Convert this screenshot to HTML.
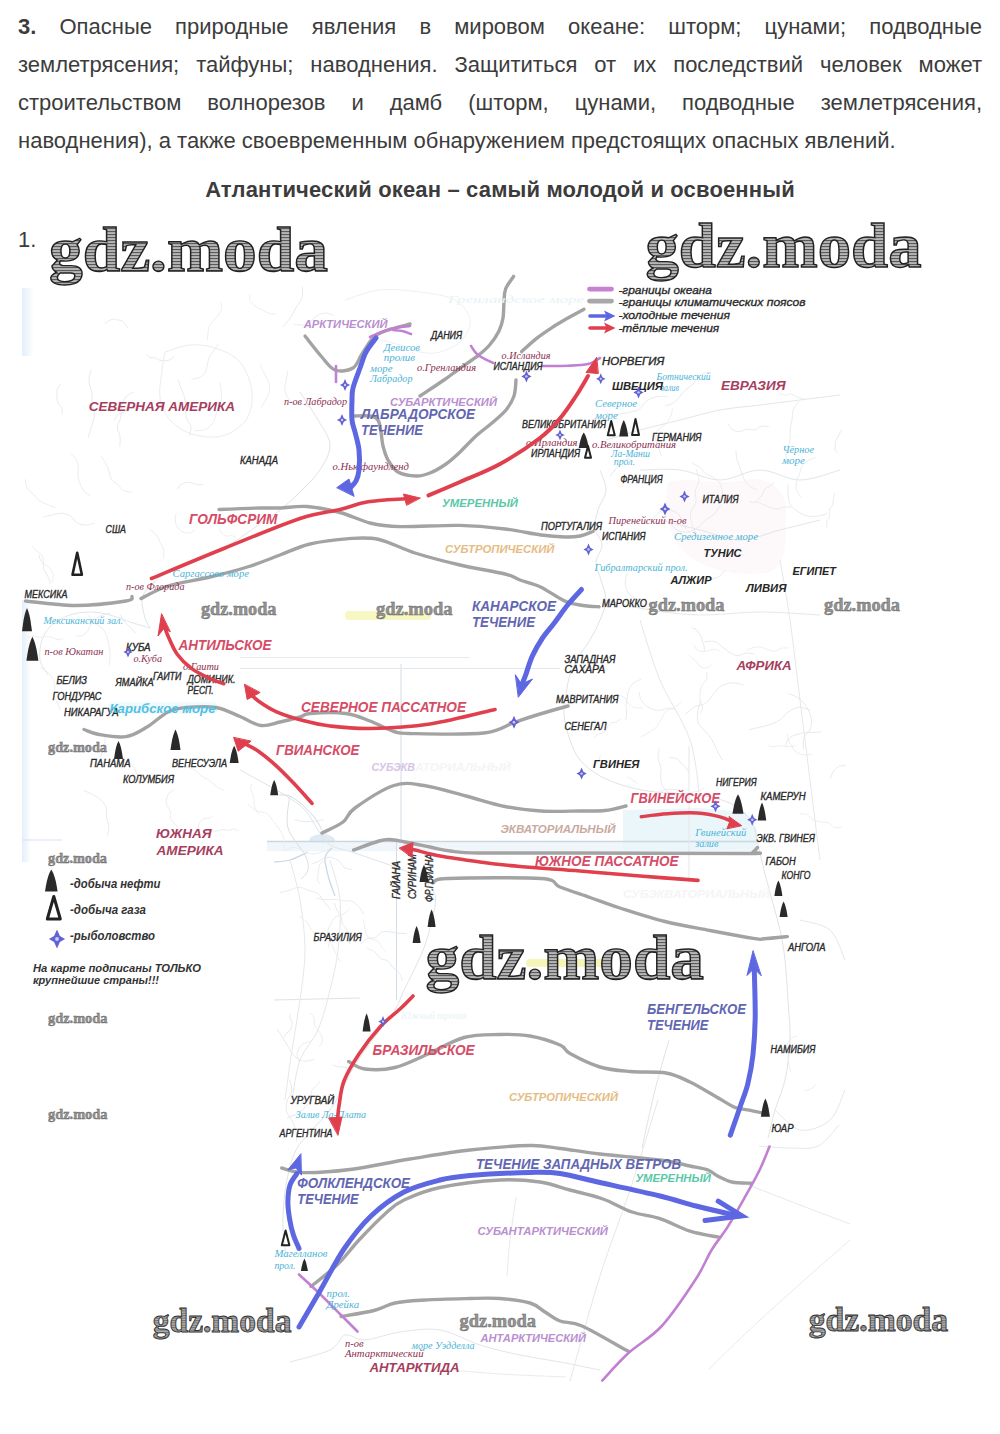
<!DOCTYPE html>
<html><head><meta charset="utf-8">
<style>
html,body{margin:0;padding:0;background:#fff}
body{position:relative;width:1000px;height:1434px;overflow:hidden;font-family:"Liberation Sans",sans-serif;color:#3c3c3c}
.p{position:absolute;left:18px;top:8px;width:964px;font-size:22px;line-height:38px}
.p div{text-align:justify;text-align-last:justify;height:38px}
.p div.l{text-align-last:left}
.h{position:absolute;left:0;width:1000px;top:176px;text-align:center;font-weight:bold;font-size:22px;line-height:28px;letter-spacing:0.15px}
.n1{position:absolute;left:18px;top:227px;font-size:22px;line-height:26px}
svg{position:absolute;left:0;top:0}
</style></head><body>
<div class="p">
<div><b>3.</b> Опасные природные явления в мировом океане: шторм; цунами; подводные</div>
<div>землетрясения; тайфуны; наводнения. Защититься от их последствий человек может</div>
<div>строительством волнорезов и дамб (шторм, цунами, подводные землетрясения,</div>
<div class="l">наводнения), а также своевременным обнаружением предстоящих опасных явлений.</div>
</div>
<div class="h">Атлантический океан – самый молодой и освоенный</div>
<div class="n1">1.</div>
<svg width="1000" height="1434" viewBox="0 0 1000 1434" font-family="Liberation Sans, sans-serif">
<defs>
<pattern id="hatch" width="4" height="3" patternUnits="userSpaceOnUse">
<rect width="4" height="3" fill="#b6b6b6"/>
<rect y="0" width="4" height="1.1" fill="#5a5a5a"/>
</pattern>
<pattern id="hatch2" width="3" height="2.4" patternUnits="userSpaceOnUse">
<rect width="3" height="2.4" fill="#b0b0b0"/>
<rect y="0" width="3" height="1" fill="#707070"/>
</pattern>
<linearGradient id="lb" x1="0" x2="1" y1="0" y2="0"><stop offset="0" stop-color="#e2effa"/><stop offset="1" stop-color="#ffffff"/></linearGradient>
</defs>

<g id="map">
<style>
.k{font:italic 10px "Liberation Sans";fill:#2a2a2a;stroke:#2a2a2a;stroke-width:0.35}
.k2{font:italic bold 11px "Liberation Sans";fill:#262626}
.m{font:italic 10px "Liberation Serif";fill:#8c3050}
.c{font:italic 10px "Liberation Serif";fill:#4ab4d6}
.cf{font:italic 10px "Liberation Serif";fill:#e8f2f5}
.cb{font:italic bold 13px "Liberation Sans";fill:#52c0e2}
.cont{font:italic bold 13.5px "Liberation Sans";fill:#a63e5e}
.bc{font:italic bold 14px "Liberation Sans";fill:#6266b2}
.rc{font:italic bold 14px "Liberation Sans";fill:#d64c66}
.bp{font:italic bold 10px "Liberation Sans";fill:#b98fd0}
.bt{font:italic bold 10.8px "Liberation Sans";fill:#5ac8a8}
.bo{font:italic bold 10.8px "Liberation Sans";fill:#e6bc84}
.by{font:italic bold 10.5px "Liberation Sans";fill:#f4f0a0}
.bq{font:italic bold 10.5px "Liberation Sans";fill:#d6c4e4}
.be{font:italic bold 10.5px "Liberation Sans";fill:#c8aaa0}
.bf{font:italic bold 10.5px "Liberation Sans";fill:#f5f5f5}
.lg{font:italic 11.5px "Liberation Sans";fill:#2a2a2a;stroke:#2a2a2a;stroke-width:0.35}
.lg2{font:italic bold 12px "Liberation Sans";fill:#333}
.lg3{font:italic bold 11px "Liberation Sans";fill:#333}
</style>
<g id="bg">
<rect x="345" y="611" width="86" height="9" rx="4" fill="#f7f7c4"/>
<rect x="526" y="959" width="82" height="8" rx="4" fill="#f5f5b8"/>
<ellipse cx="322" cy="841" rx="13" ry="7" fill="#dfeaf5"/>
<rect x="267" y="842.2" width="490" height="9" fill="#f0f6fa"/>
<path d="M623,810 L700,808 L745,812 L757,830 L757,848 L623,852 Z" fill="#eaf6fa"/>
<path d="M668,482 C690,476 720,486 745,480 C770,476 788,490 786,515 C784,540 790,560 770,572 C740,578 712,570 695,560 C675,548 660,520 668,482 Z" fill="#fdf8fa"/>
<rect x="22" y="288" width="12" height="68" fill="url(#lb)"/>
<rect x="22" y="600" width="9" height="262" fill="url(#lb)"/>
<rect x="108" y="702" width="110" height="12" rx="5" fill="#f0fafc"/>
<path d="M267.0,841.5 L757.0,841.5" fill="none" stroke="#c9d7e3" stroke-width="1.3" stroke-linejoin="round"/>
<path d="M22.0,840.0 L62.0,840.0" fill="none" stroke="#d6e2ec" stroke-width="1.2" stroke-linejoin="round"/>
<path d="M308.0,852.0 C305.0,853.3 295.7,858.3 290.0,860.0 C284.3,861.7 276.7,861.7 274.0,862.0" fill="none" stroke="#c6d6e2" stroke-width="1.2" stroke-linejoin="round"/>
<path d="M332.0,848.0 C330.8,849.7 325.5,852.8 325.0,858.0 C324.5,863.2 327.3,872.7 329.0,879.0 C330.7,885.3 334.0,893.2 335.0,896.0" fill="none" stroke="#c6d6e2" stroke-width="1.2" stroke-linejoin="round"/>
<path d="M279.0,795.0 C280.8,795.2 285.8,794.5 289.5,796.0 C293.2,797.5 297.1,800.3 301.4,804.0 C305.6,807.7 311.6,813.7 315.0,818.0 C318.4,822.3 320.8,828.0 322.0,830.0" fill="none" stroke="#cfdae3" stroke-width="1" stroke-linejoin="round"/>
<path d="M289.5,797.0 C289.2,802.2 285.4,818.3 288.0,828.0 C290.6,837.7 301.7,848.0 305.0,855.0 C308.3,862.0 308.7,866.0 308.0,870.0 C307.3,874.0 302.2,877.5 301.0,879.0" fill="none" stroke="#d8e0e6" stroke-width="1" stroke-linejoin="round"/>
<path d="M401.0,664.0 L401.0,841.0" fill="none" stroke="#d3dce5" stroke-width="1" stroke-linejoin="round"/>
<path d="M240.0,668.5 L560.0,668.5" fill="none" stroke="#e2e7ec" stroke-width="1" stroke-linejoin="round"/>
<path d="M240.0,657.5 L470.0,657.5" fill="none" stroke="#e6eaee" stroke-width="1" stroke-linejoin="round"/>
<path d="M396.5,842.0 L396.5,1000.0" fill="none" stroke="#d3dce5" stroke-width="1" stroke-linejoin="round"/>
<path d="M274.0,1000.0 L360.0,998.0" fill="none" stroke="#dde3e8" stroke-width="1" stroke-linejoin="round"/>
<path d="M669.0,1040.0 C666.7,1048.3 659.5,1072.0 655.0,1090.0 C650.5,1108.0 644.2,1138.3 642.0,1148.0" fill="none" stroke="#dde3e8" stroke-width="1" stroke-linejoin="round"/>
<path d="M689.0,746.0 L689.0,880.0" fill="none" stroke="#e3e7ea" stroke-width="1" stroke-linejoin="round"/>
<path d="M300.0,392.0 C303.0,396.7 313.0,411.2 318.0,420.0 C323.0,428.8 329.7,436.7 330.0,445.0 C330.3,453.3 325.0,462.2 320.0,470.0 C315.0,477.8 306.7,485.3 300.0,492.0 C293.3,498.7 286.3,505.0 280.0,510.0 C273.7,515.0 268.7,517.3 262.0,522.0 C255.3,526.7 247.8,533.0 240.0,538.0 C232.2,543.0 223.3,548.0 215.0,552.0 C206.7,556.0 198.3,558.3 190.0,562.0 C181.7,565.7 172.0,569.7 165.0,574.0 C158.0,578.3 151.8,583.7 148.0,588.0 C144.2,592.3 142.5,595.0 142.0,600.0 C141.5,605.0 143.7,613.3 145.0,618.0 C146.3,622.7 149.2,626.3 150.0,628.0" fill="none" stroke="#dfe4e8" stroke-width="1" stroke-linejoin="round"/>
<path d="M150.0,628.0 C146.7,627.0 136.7,624.2 130.0,622.0 C123.3,619.8 116.7,616.7 110.0,615.0 C103.3,613.3 96.7,612.0 90.0,612.0 C83.3,612.0 76.3,612.8 70.0,615.0 C63.7,617.2 56.7,620.8 52.0,625.0 C47.3,629.2 44.0,634.2 42.0,640.0 C40.0,645.8 39.0,654.2 40.0,660.0 C41.0,665.8 46.7,672.5 48.0,675.0" fill="none" stroke="#e2e6ea" stroke-width="1" stroke-linejoin="round"/>
<path d="M165.0,352.0 C169.2,350.8 181.7,345.7 190.0,345.0 C198.3,344.3 206.7,345.2 215.0,348.0 C223.3,350.8 233.8,354.7 240.0,362.0 C246.2,369.3 251.0,382.3 252.0,392.0 C253.0,401.7 251.0,412.7 246.0,420.0 C241.0,427.3 231.0,433.7 222.0,436.0 C213.0,438.3 200.7,436.7 192.0,434.0 C183.3,431.3 175.3,426.0 170.0,420.0 C164.7,414.0 161.3,406.3 160.0,398.0 C158.7,389.7 161.2,377.7 162.0,370.0 C162.8,362.3 164.5,355.0 165.0,352.0" fill="none" stroke="#eaedf0" stroke-width="1" stroke-linejoin="round"/>
<path d="M345.0,300.0 C350.8,298.3 367.5,291.3 380.0,290.0 C392.5,288.7 407.5,290.3 420.0,292.0 C432.5,293.7 446.7,295.3 455.0,300.0 C463.3,304.7 468.8,313.3 470.0,320.0 C471.2,326.7 467.0,334.7 462.0,340.0 C457.0,345.3 447.0,350.0 440.0,352.0 C433.0,354.0 426.7,353.2 420.0,352.0 C413.3,350.8 406.7,347.0 400.0,345.0 C393.3,343.0 383.3,340.8 380.0,340.0" fill="none" stroke="#eef0f2" stroke-width="1" stroke-linejoin="round"/>
<path d="M600.0,470.0 C601.0,473.3 606.3,483.3 606.0,490.0 C605.7,496.7 599.8,503.7 598.0,510.0 C596.2,516.3 594.3,522.2 595.0,528.0 C595.7,533.8 601.8,539.3 602.0,545.0 C602.2,550.7 596.2,556.2 596.0,562.0 C595.8,567.8 599.3,573.7 601.0,580.0 C602.7,586.3 606.2,593.3 606.0,600.0 C605.8,606.7 602.7,613.3 600.0,620.0 C597.3,626.7 593.3,634.2 590.0,640.0 C586.7,645.8 583.3,649.2 580.0,655.0 C576.7,660.8 572.3,668.3 570.0,675.0 C567.7,681.7 567.0,688.3 566.0,695.0 C565.0,701.7 563.3,707.5 564.0,715.0 C564.7,722.5 567.3,732.5 570.0,740.0 C572.7,747.5 575.0,754.0 580.0,760.0 C585.0,766.0 592.5,771.7 600.0,776.0 C607.5,780.3 615.8,783.3 625.0,786.0 C634.2,788.7 644.2,790.7 655.0,792.0 C665.8,793.3 680.0,793.0 690.0,794.0 C700.0,795.0 707.5,796.0 715.0,798.0 C722.5,800.0 728.8,802.0 735.0,806.0 C741.2,810.0 748.2,815.5 752.0,822.0 C755.8,828.5 756.0,837.0 758.0,845.0 C760.0,853.0 761.7,860.8 764.0,870.0 C766.3,879.2 769.3,890.0 772.0,900.0 C774.7,910.0 777.8,920.0 780.0,930.0 C782.2,940.0 783.7,948.3 785.0,960.0 C786.3,971.7 787.2,986.7 788.0,1000.0 C788.8,1013.3 790.5,1026.7 790.0,1040.0 C789.5,1053.3 787.5,1068.3 785.0,1080.0 C782.5,1091.7 777.8,1100.3 775.0,1110.0 C772.2,1119.7 769.2,1133.3 768.0,1138.0" fill="none" stroke="#dfe4e8" stroke-width="1" stroke-linejoin="round"/>
<path d="M606.0,600.0 C613.3,601.7 634.3,607.5 650.0,610.0 C665.7,612.5 681.7,614.7 700.0,615.0 C718.3,615.3 740.0,612.0 760.0,612.0 C780.0,612.0 810.0,614.5 820.0,615.0" fill="none" stroke="#e4e8eb" stroke-width="1" stroke-linejoin="round"/>
<path d="M640.0,620.0 C643.3,630.0 651.7,660.0 660.0,680.0 C668.3,700.0 683.3,720.0 690.0,740.0 C696.7,760.0 698.3,790.0 700.0,800.0" fill="none" stroke="#e4e8eb" stroke-width="1" stroke-linejoin="round"/>
<path d="M780.0,560.0 C781.7,570.0 786.7,596.7 790.0,620.0 C793.3,643.3 796.7,673.3 800.0,700.0 C803.3,726.7 806.7,753.3 810.0,780.0 C813.3,806.7 818.3,846.7 820.0,860.0" fill="none" stroke="#e4e8eb" stroke-width="1" stroke-linejoin="round"/>
<path d="M800.0,920.0 C805.0,921.7 822.5,923.3 830.0,930.0 C837.5,936.7 842.5,955.0 845.0,960.0" fill="none" stroke="#e4e8eb" stroke-width="1" stroke-linejoin="round"/>
<path d="M775.0,1110.0 C779.2,1113.3 790.8,1128.3 800.0,1130.0 C809.2,1131.7 822.5,1126.7 830.0,1120.0 C837.5,1113.3 842.5,1095.0 845.0,1090.0" fill="none" stroke="#e4e8eb" stroke-width="1" stroke-linejoin="round"/>
<path d="M606.0,440.0 C611.7,438.3 627.7,433.3 640.0,430.0 C652.3,426.7 666.7,423.3 680.0,420.0 C693.3,416.7 706.7,412.5 720.0,410.0 C733.3,407.5 746.7,406.7 760.0,405.0 C773.3,403.3 786.7,401.7 800.0,400.0 C813.3,398.3 833.3,395.8 840.0,395.0" fill="none" stroke="#e2e6ea" stroke-width="1" stroke-linejoin="round"/>
<path d="M640.0,470.0 C646.7,470.0 666.7,468.3 680.0,470.0 C693.3,471.7 706.7,480.0 720.0,480.0 C733.3,480.0 746.7,470.0 760.0,470.0 C773.3,470.0 786.7,480.0 800.0,480.0 C813.3,480.0 833.3,471.7 840.0,470.0" fill="none" stroke="#e2e6ea" stroke-width="1" stroke-linejoin="round"/>
<path d="M660.0,520.0 C666.7,521.7 686.7,526.7 700.0,530.0 C713.3,533.3 726.7,540.0 740.0,540.0 C753.3,540.0 766.7,533.3 780.0,530.0 C793.3,526.7 813.3,521.7 820.0,520.0" fill="none" stroke="#e2e6ea" stroke-width="1" stroke-linejoin="round"/>
<path d="M240.0,770.0 C243.7,772.0 254.5,777.8 262.0,782.0 C269.5,786.2 277.8,790.3 285.0,795.0 C292.2,799.7 299.5,804.2 305.0,810.0 C310.5,815.8 313.8,824.2 318.0,830.0 C322.2,835.8 324.3,841.3 330.0,845.0 C335.7,848.7 344.5,849.5 352.0,852.0 C359.5,854.5 367.3,857.3 375.0,860.0 C382.7,862.7 390.5,865.0 398.0,868.0 C405.5,871.0 413.8,873.5 420.0,878.0 C426.2,882.5 433.0,888.0 435.0,895.0 C437.0,902.0 433.7,911.7 432.0,920.0 C430.3,928.3 427.8,937.0 425.0,945.0 C422.2,953.0 418.5,960.5 415.0,968.0 C411.5,975.5 407.3,983.0 404.0,990.0 C400.7,997.0 399.0,1003.3 395.0,1010.0 C391.0,1016.7 385.0,1023.3 380.0,1030.0 C375.0,1036.7 369.7,1043.3 365.0,1050.0 C360.3,1056.7 355.8,1063.3 352.0,1070.0 C348.2,1076.7 345.7,1083.3 342.0,1090.0 C338.3,1096.7 335.0,1103.3 330.0,1110.0 C325.0,1116.7 317.7,1123.3 312.0,1130.0 C306.3,1136.7 300.0,1142.5 296.0,1150.0 C292.0,1157.5 290.0,1166.7 288.0,1175.0 C286.0,1183.3 284.8,1190.8 284.0,1200.0 C283.2,1209.2 282.7,1220.8 283.0,1230.0 C283.3,1239.2 285.5,1250.8 286.0,1255.0" fill="none" stroke="#dfe4e8" stroke-width="1" stroke-linejoin="round"/>
<path d="M330.0,860.0 C331.7,866.7 338.7,885.0 340.0,900.0 C341.3,915.0 339.7,935.0 338.0,950.0 C336.3,965.0 333.3,976.7 330.0,990.0 C326.7,1003.3 323.0,1018.3 318.0,1030.0 C313.0,1041.7 304.3,1048.3 300.0,1060.0 C295.7,1071.7 293.3,1093.3 292.0,1100.0" fill="none" stroke="#e4e8eb" stroke-width="1" stroke-linejoin="round"/>
<path d="M290.0,860.0 C291.7,866.7 297.5,885.0 300.0,900.0 C302.5,915.0 305.0,933.3 305.0,950.0 C305.0,966.7 302.2,983.3 300.0,1000.0 C297.8,1016.7 294.5,1033.3 292.0,1050.0 C289.5,1066.7 286.2,1091.7 285.0,1100.0" fill="none" stroke="#e4e8eb" stroke-width="1" stroke-linejoin="round"/>
<path d="M290.0,1362.0 C296.7,1360.0 320.8,1354.5 330.0,1350.0 C339.2,1345.5 339.2,1336.7 345.0,1335.0 C350.8,1333.3 355.8,1340.5 365.0,1340.0 C374.2,1339.5 387.5,1333.7 400.0,1332.0 C412.5,1330.3 426.7,1327.8 440.0,1330.0 C453.3,1332.2 466.7,1340.8 480.0,1345.0 C493.3,1349.2 506.7,1352.2 520.0,1355.0 C533.3,1357.8 546.7,1359.5 560.0,1362.0 C573.3,1364.5 593.3,1368.7 600.0,1370.0" fill="none" stroke="#e2e6ea" stroke-width="1" stroke-linejoin="round"/>
<path d="M658.0,1100.0 C653.3,1115.0 639.7,1160.7 630.0,1190.0 C620.3,1219.3 610.0,1244.2 600.0,1276.0 C590.0,1307.8 575.0,1363.5 570.0,1381.0" fill="none" stroke="#e4e8eb" stroke-width="1" stroke-linejoin="round"/>
<path d="M516.0,1197.0 C515.0,1204.2 511.5,1226.8 510.0,1240.0 C508.5,1253.2 507.5,1270.0 507.0,1276.0" fill="none" stroke="#e6e9ec" stroke-width="1" stroke-linejoin="round"/>
<path d="M746.0,1184.0 C755.0,1187.5 782.7,1198.3 800.0,1205.0 C817.3,1211.7 841.7,1220.8 850.0,1224.0" fill="none" stroke="#e6e9ec" stroke-width="1" stroke-linejoin="round"/>
<path d="M759.0,1146.0 C764.2,1146.3 780.2,1148.0 790.0,1148.0 C799.8,1148.0 809.8,1149.8 818.0,1146.0 C826.2,1142.2 835.5,1128.5 839.0,1125.0" fill="none" stroke="#e4e8eb" stroke-width="1" stroke-linejoin="round"/>
<path d="M709.0,1369.0 C717.5,1360.8 741.8,1336.8 760.0,1320.0 C778.2,1303.2 803.0,1281.3 818.0,1268.0 C833.0,1254.7 844.7,1244.7 850.0,1240.0" fill="none" stroke="#e8ebee" stroke-width="1" stroke-linejoin="round"/>
<path d="M440.0,1369.0 C450.0,1369.8 479.0,1372.7 500.0,1374.0 C521.0,1375.3 555.0,1376.5 566.0,1377.0" fill="none" stroke="#e8ebee" stroke-width="1" stroke-linejoin="round"/>
<path d="M127.95031751144512,328.27173565584064 C127.5,327.6 126.4,325.5 125.4,324.3 C124.4,323.1 123.5,321.6 122.2,320.9 C120.9,320.2 119.0,320.3 117.5,320.0 C116.0,319.7 114.4,318.9 112.9,319.1 C111.4,319.3 110.1,320.4 108.7,321.1 C107.3,321.8 105.3,323.1 104.6,323.5" fill="none" stroke="#e4e8eb" stroke-width="0.9"/>
<path d="M101.25282304077503,456.33512121324344 C102.0,457.5 104.5,460.9 105.8,463.4 C107.1,465.9 108.1,468.5 109.0,471.2 C109.9,473.9 109.8,477.1 111.3,479.3 C112.8,481.5 115.8,482.7 117.8,484.6 C119.8,486.5 121.2,489.4 123.6,490.6 C125.9,491.9 130.5,491.9 131.9,492.1" fill="none" stroke="#e7eaed" stroke-width="0.9"/>
<path d="M38.95304047829977,554.7099068955774 C39.2,555.5 39.7,558.1 40.4,559.7 C41.1,561.3 42.6,562.6 43.2,564.2 C43.8,565.8 43.2,567.8 43.8,569.4 C44.4,571.0 45.8,572.4 46.6,573.9 C47.4,575.4 48.2,577.0 48.8,578.6 C49.4,580.2 49.9,582.9 50.1,583.7" fill="none" stroke="#e3e7eb" stroke-width="0.9"/>
<path d="M55.275214894309414,507.87544503876916 C53.9,507.3 49.9,505.6 47.2,504.4 C44.5,503.2 41.5,502.4 39.2,500.7 C36.9,499.0 35.3,496.3 33.3,494.2 C31.3,492.1 28.3,490.4 27.0,487.9 C25.7,485.4 25.6,480.7 25.3,479.3" fill="none" stroke="#e7eaed" stroke-width="0.9"/>
<path d="M61.899114819842836,413.7993029712727 C61.9,412.9 62.6,410.1 62.1,408.5 C61.6,406.9 59.9,405.8 59.0,404.2 C58.1,402.6 57.3,400.9 57.0,399.2 C56.7,397.5 56.9,395.7 57.0,393.9 C57.1,392.1 56.9,390.2 57.5,388.6 C58.1,387.0 60.0,385.0 60.5,384.3" fill="none" stroke="#e3e7eb" stroke-width="0.9"/>
<path d="M133.17927826337376,392.0570840701339 C131.8,393.0 127.0,395.4 125.0,398.0 C123.0,400.6 121.9,404.1 121.2,407.4 C120.5,410.6 121.3,414.2 120.7,417.5 C120.1,420.8 117.5,423.9 117.4,427.1 C117.3,430.3 119.7,433.6 120.1,436.9 C120.5,440.2 119.8,445.3 119.7,447.0" fill="none" stroke="#e3e7eb" stroke-width="0.9"/>
<path d="M287.8378565017185,371.07057027012775 C287.6,372.6 286.7,377.1 286.2,380.1 C285.7,383.1 284.6,386.2 284.9,389.2 C285.2,392.2 286.3,395.5 288.0,397.9 C289.7,400.3 292.3,402.7 295.0,403.8 C297.7,404.9 301.2,403.8 304.1,404.6 C307.0,405.4 311.0,407.9 312.4,408.6" fill="none" stroke="#e7eaed" stroke-width="0.9"/>
<path d="M261.0146448499289,407.3272571347945 C261.7,406.2 264.0,403.0 265.3,400.7 C266.6,398.4 267.9,396.1 268.7,393.6 C269.4,391.1 270.1,388.3 269.8,385.8 C269.5,383.3 268.0,380.8 266.9,378.4 C265.8,376.0 264.4,373.8 263.3,371.4 C262.2,369.0 260.7,365.4 260.2,364.2" fill="none" stroke="#e9ecee" stroke-width="0.9"/>
<path d="M146.12165738218812,353.8404825947783 C146.8,354.4 148.5,356.8 150.0,357.4 C151.5,358.0 153.7,357.2 155.3,357.7 C157.0,358.2 158.2,359.9 159.9,360.4 C161.6,360.9 163.4,360.9 165.2,360.8 C166.9,360.7 168.9,360.4 170.4,359.6 C171.9,358.8 173.7,356.7 174.3,356.1" fill="none" stroke="#e3e7eb" stroke-width="0.9"/>
<path d="M219.749791717496,381.95573795580367 C220.0,383.7 221.2,388.9 221.4,392.4 C221.6,395.9 221.5,399.6 220.7,403.0 C219.9,406.4 217.8,409.5 216.5,412.8 C215.2,416.1 214.9,420.0 213.0,422.8 C211.1,425.6 208.1,428.4 205.0,429.7 C201.9,431.0 196.2,430.5 194.4,430.6" fill="none" stroke="#e9ecee" stroke-width="0.9"/>
<path d="M151.7803514083639,406.11840511211653 C150.8,406.7 147.9,409.4 145.7,409.9 C143.5,410.4 141.0,409.1 138.6,408.9 C136.2,408.7 133.7,408.1 131.4,408.6 C129.2,409.1 127.3,411.0 125.1,412.0 C122.9,413.0 120.2,413.2 118.4,414.6 C116.6,416.0 114.7,419.3 114.0,420.2" fill="none" stroke="#e7eaed" stroke-width="0.9"/>
<path d="M221.00966141511338,302.50098436911674 C221.1,303.7 222.0,307.4 221.5,309.5 C221.0,311.6 219.2,313.5 217.8,315.4 C216.4,317.3 214.8,318.9 213.3,320.7 C211.8,322.5 209.9,324.1 209.0,326.2 C208.1,328.3 208.4,330.8 208.1,333.1 C207.8,335.4 207.4,338.9 207.3,340.1" fill="none" stroke="#e9ecee" stroke-width="0.9"/>
<path d="M178.20682858162317,379.7927405497662 C178.7,381.3 180.3,386.0 181.4,389.1 C182.5,392.2 184.1,395.1 184.8,398.2 C185.5,401.3 185.4,404.8 185.7,408.0 C185.9,411.2 185.4,414.6 186.3,417.7 C187.2,420.8 190.4,423.3 190.9,426.4 C191.4,429.5 189.7,434.5 189.4,436.1" fill="none" stroke="#e3e7eb" stroke-width="0.9"/>
<path d="M71.05941498660812,453.8151762822766 C72.0,454.8 75.3,457.6 76.5,459.9 C77.7,462.2 78.1,465.1 78.3,467.8 C78.5,470.5 77.6,473.2 77.9,475.9 C78.2,478.5 79.1,481.2 80.1,483.7 C81.1,486.2 82.1,489.0 83.8,491.0 C85.5,493.0 89.2,495.0 90.3,495.8" fill="none" stroke="#e7eaed" stroke-width="0.9"/>
<path d="M194.96215959521416,529.2975652282166 C194.2,529.9 192.1,532.3 190.3,532.8 C188.5,533.3 186.2,533.0 184.4,532.5 C182.6,532.0 180.8,530.8 179.4,529.5 C178.0,528.2 176.8,526.5 176.1,524.7 C175.4,522.9 175.2,520.8 175.2,518.9 C175.2,517.0 176.0,514.2 176.2,513.2" fill="none" stroke="#e7eaed" stroke-width="0.9"/>
<path d="M88.17367266984304,437.6901897324623 C88.7,435.8 90.5,430.3 91.5,426.6 C92.5,422.9 94.2,419.1 94.3,415.3 C94.4,411.5 92.6,407.7 92.2,403.9 C91.8,400.1 92.3,396.2 91.8,392.4 C91.2,388.6 89.0,384.9 88.9,381.1 C88.8,377.3 90.7,371.6 91.0,369.7" fill="none" stroke="#e3e7eb" stroke-width="0.9"/>
<path d="M330.55520265414793,396.68348331579716 C331.1,397.5 332.5,400.2 333.9,401.5 C335.3,402.8 338.1,404.0 338.9,404.5" fill="none" stroke="#e4e8eb" stroke-width="0.9"/>
<path d="M177.91096982995376,488.9529737091229 C178.3,488.3 179.3,485.8 180.4,484.8 C181.5,483.8 183.2,483.1 184.7,482.7 C186.2,482.3 187.9,482.2 189.5,482.4 C191.1,482.6 192.6,483.3 194.1,483.7 C195.6,484.1 197.1,484.8 198.7,484.9 C200.2,484.9 202.6,484.1 203.4,484.0" fill="none" stroke="#e3e7eb" stroke-width="0.9"/>
<path d="M51.846704312148404,582.7729105273659 C52.1,581.5 53.4,577.6 53.1,575.2 C52.8,572.8 51.5,570.2 50.0,568.3 C48.5,566.3 45.2,565.5 44.0,563.5 C42.8,561.5 43.7,558.1 42.5,556.0 C41.3,553.9 38.5,552.8 36.7,551.0 C34.9,549.2 32.4,546.3 31.5,545.4" fill="none" stroke="#e9ecee" stroke-width="0.9"/>
<path d="M282.88713623233497,326.7757787980397 C284.1,325.3 288.1,321.2 290.3,318.0 C292.5,314.8 293.9,311.1 295.8,307.8 C297.7,304.5 300.8,301.7 301.9,298.1 C303.0,294.6 302.3,288.4 302.4,286.5" fill="none" stroke="#e4e8eb" stroke-width="0.9"/>
<path d="M163.2528291991529,558.9577369566093 C163.4,558.0 164.0,555.2 164.0,553.3 C164.0,551.4 163.7,549.4 163.1,547.6 C162.5,545.8 161.0,544.3 160.2,542.6 C159.3,540.9 159.0,538.9 158.0,537.3 C157.0,535.7 155.5,534.3 154.1,533.0 C152.7,531.7 150.5,529.9 149.8,529.3" fill="none" stroke="#e7eaed" stroke-width="0.9"/>
<path d="M43.550352380540005,516.7750557751274 C45.0,516.5 49.5,515.5 52.5,514.9 C55.5,514.3 58.5,513.1 61.5,513.3 C64.5,513.4 67.8,514.3 70.3,515.8 C72.8,517.3 74.1,521.0 76.6,522.5 C79.1,524.0 82.3,525.0 85.3,525.1 C88.2,525.2 92.8,523.6 94.3,523.3" fill="none" stroke="#e4e8eb" stroke-width="0.9"/>
<path d="M219.3460391034359,528.3324689845334 C219.7,529.1 220.6,531.7 221.7,533.0 C222.8,534.3 224.5,535.4 226.1,535.9 C227.7,536.4 229.6,535.6 231.3,535.7 C233.0,535.9 235.6,536.6 236.4,536.8" fill="none" stroke="#e9ecee" stroke-width="0.9"/>
<path d="M275.75146459231763,313.955013473577 C274.7,313.9 271.6,314.1 269.7,313.6 C267.8,313.1 266.1,311.8 264.3,310.9 C262.5,310.0 260.7,309.3 258.9,308.3 C257.1,307.3 255.2,306.4 253.7,305.1 C252.2,303.8 250.7,302.2 250.0,300.4 C249.3,298.6 249.6,295.4 249.5,294.4" fill="none" stroke="#e9ecee" stroke-width="0.9"/>
<path d="M218.57019587162011,343.8090269392276 C217.8,344.9 215.6,348.2 214.1,350.4 C212.6,352.6 210.6,354.5 209.5,356.9 C208.4,359.3 208.1,362.0 207.4,364.6 C206.7,367.2 206.4,370.1 205.1,372.3 C203.8,374.5 201.6,376.6 199.3,377.7 C197.0,378.8 192.7,378.8 191.4,379.0" fill="none" stroke="#e7eaed" stroke-width="0.9"/>
<path d="M293.63993046921905,323.88301948699245 C294.9,324.1 298.5,325.1 301.0,325.1 C303.5,325.1 306.3,324.8 308.4,323.7 C310.5,322.6 311.7,319.9 313.6,318.3 C315.5,316.7 317.6,315.2 319.9,314.3 C322.2,313.4 324.9,312.9 327.3,313.2 C329.7,313.5 333.1,315.5 334.2,316.0" fill="none" stroke="#e7eaed" stroke-width="0.9"/>
<path d="M834.8761646377293,492.97010377144977 C834.6,494.0 833.9,496.9 833.5,498.9 C833.1,500.9 833.2,503.0 832.5,504.9 C831.8,506.8 829.9,508.2 829.4,510.1 C828.9,512.0 830.1,514.3 829.7,516.2 C829.3,518.1 827.4,519.6 826.9,521.5 C826.4,523.4 826.7,526.6 826.7,527.6" fill="none" stroke="#e7eaed" stroke-width="0.9"/>
<path d="M640.3665149702198,453.1261017835561 C639.3,453.5 636.0,454.3 634.0,455.3 C632.0,456.3 630.4,458.1 628.4,459.0 C626.4,459.9 623.6,459.6 621.9,460.8 C620.2,462.0 619.4,464.4 618.0,466.2 C616.6,467.9 615.1,469.5 613.7,471.3 C612.3,473.1 610.4,475.9 609.8,476.8" fill="none" stroke="#e4e8eb" stroke-width="0.9"/>
<path d="M696.0861394768541,469.2775650419168 C696.6,471.1 699.1,476.7 699.0,480.3 C698.9,483.9 695.8,487.3 695.3,491.0 C694.8,494.7 696.7,498.8 695.9,502.4 C695.1,506.0 691.3,508.9 690.6,512.5 C689.9,516.1 690.8,520.2 691.8,523.8 C692.8,527.4 695.7,532.5 696.5,534.2" fill="none" stroke="#e7eaed" stroke-width="0.9"/>
<path d="M667.6115243803273,396.35644514946733 C665.8,396.4 660.1,396.0 656.6,396.8 C653.1,397.6 649.3,398.8 646.4,400.9 C643.5,403.0 642.2,407.4 639.3,409.3 C636.4,411.2 632.4,411.5 628.8,412.4 C625.2,413.2 621.5,414.2 617.9,414.4 C614.3,414.6 608.8,413.6 607.0,413.4" fill="none" stroke="#e4e8eb" stroke-width="0.9"/>
<path d="M669.765575337273,522.3224599464435 C671.0,523.7 674.1,528.7 677.1,530.3 C680.1,531.9 684.5,532.5 687.9,532.0 C691.3,531.5 694.8,529.5 697.8,527.5 C700.8,525.5 702.9,522.3 705.7,520.0 C708.5,517.7 712.1,516.3 714.6,513.8 C717.1,511.2 719.5,506.2 720.5,504.7" fill="none" stroke="#e3e7eb" stroke-width="0.9"/>
<path d="M815.6937422634616,457.30942194290986 C814.4,457.9 810.4,459.1 808.1,460.6 C805.8,462.1 803.4,463.9 801.9,466.2 C800.4,468.5 800.3,471.6 799.4,474.2 C798.5,476.8 797.0,479.3 796.5,482.0 C796.0,484.7 795.8,487.8 796.6,490.3 C797.4,492.9 800.4,496.1 801.1,497.3" fill="none" stroke="#e7eaed" stroke-width="0.9"/>
<path d="M665.4738229706505,406.0554419005843 C666.8,405.5 671.3,404.3 673.7,402.7 C676.1,401.1 677.9,398.6 679.9,396.4 C681.9,394.2 683.5,391.6 685.7,389.6 C687.9,387.6 690.9,386.5 692.9,384.4 C694.9,382.3 695.9,379.1 698.0,377.2 C700.1,375.2 704.4,373.4 705.7,372.7" fill="none" stroke="#e3e7eb" stroke-width="0.9"/>
<path d="M661.419879895901,456.04644325361323 C660.9,454.6 659.3,450.5 658.3,447.6 C657.3,444.7 655.8,441.8 655.7,438.9 C655.6,436.0 656.4,432.6 657.9,430.2 C659.4,427.8 662.9,426.7 665.0,424.6 C667.1,422.5 669.1,420.1 670.4,417.4 C671.7,414.7 672.2,410.1 672.6,408.6" fill="none" stroke="#e7eaed" stroke-width="0.9"/>
<path d="M685.6761563543686,528.4698701337165 C685.1,527.1 683.6,522.9 682.2,520.3 C680.8,517.7 679.3,514.7 677.0,513.0 C674.7,511.3 671.4,510.3 668.5,510.1 C665.6,509.9 662.2,510.5 659.7,511.8 C657.2,513.1 655.9,516.4 653.5,518.1 C651.1,519.8 646.8,521.4 645.4,522.1" fill="none" stroke="#e3e7eb" stroke-width="0.9"/>
<path d="M749.6946033876629,502.22487717192615 C750.6,502.2 753.6,502.7 755.2,502.0 C756.8,501.3 758.1,499.7 759.4,498.3 C760.6,496.9 761.8,495.4 762.7,493.8 C763.6,492.2 763.7,490.0 764.9,488.7 C766.1,487.4 768.3,487.2 769.8,486.2 C771.3,485.1 773.3,483.0 774.0,482.4" fill="none" stroke="#e4e8eb" stroke-width="0.9"/>
<path d="M841.4166925146963,430.1950085234551 C841.1,430.8 840.1,432.7 839.4,433.9 C838.7,435.1 838.1,436.4 837.5,437.6 C836.9,438.8 836.0,440.0 835.6,441.3 C835.2,442.6 835.5,444.1 835.4,445.5 C835.3,446.9 834.7,448.4 835.1,449.6 C835.5,450.9 837.2,452.4 837.6,453.0" fill="none" stroke="#e3e7eb" stroke-width="0.9"/>
<path d="M804.2610702845332,399.04664655855373 C803.1,398.7 799.6,398.0 797.4,397.2 C795.2,396.4 793.2,394.5 791.0,394.1 C788.8,393.8 786.1,395.5 783.9,395.1 C781.7,394.7 779.4,393.2 777.7,391.6 C776.0,390.0 775.5,387.2 773.8,385.6 C772.1,384.0 768.6,382.7 767.6,382.1" fill="none" stroke="#e9ecee" stroke-width="0.9"/>
<path d="M791.0778364653415,507.48732701785167 C790.0,507.4 786.8,506.5 784.8,506.7 C782.8,506.9 781.0,508.6 779.0,508.9 C777.0,509.2 774.7,508.9 772.7,508.4 C770.7,507.9 768.8,506.8 766.9,506.0 C765.0,505.2 763.1,504.2 761.1,503.5 C759.1,502.8 756.1,501.9 755.1,501.6" fill="none" stroke="#e7eaed" stroke-width="0.9"/>
<path d="M827.471913255299,513.5390258045626 C825.8,514.0 820.9,515.7 817.5,516.1 C814.1,516.5 810.6,516.6 807.3,515.9 C804.0,515.1 800.7,513.5 797.9,511.6 C795.1,509.8 791.9,507.6 790.3,504.8 C788.7,502.0 788.6,498.2 788.2,494.8 C787.8,491.4 788.1,486.2 788.1,484.5" fill="none" stroke="#e4e8eb" stroke-width="0.9"/>
<path d="M756.9417771302922,489.73057427936374 C755.8,489.2 751.9,487.9 749.9,486.4 C747.9,484.9 746.0,482.7 744.7,480.5 C743.4,478.3 742.8,475.6 741.9,473.2 C741.0,470.8 740.0,468.3 739.1,465.8 C738.2,463.3 737.2,460.9 736.7,458.4 C736.2,455.9 736.1,451.9 736.0,450.6" fill="none" stroke="#e4e8eb" stroke-width="0.9"/>
<path d="M786.4319774076125,461.0853839770882 C786.4,459.3 785.8,454.0 786.4,450.6 C787.0,447.2 789.5,444.1 790.1,440.7 C790.7,437.3 789.7,433.7 790.0,430.2 C790.3,426.7 791.4,423.3 792.0,419.9 C792.6,416.4 792.1,412.7 793.4,409.5 C794.6,406.3 798.5,402.3 799.5,400.9" fill="none" stroke="#e4e8eb" stroke-width="0.9"/>
<path d="M719.7525410176565,500.5349537880421 C720.2,499.1 722.4,495.0 722.4,492.2 C722.4,489.4 721.3,486.1 719.9,483.7 C718.5,481.2 716.1,479.2 713.8,477.5 C711.4,475.8 708.2,475.3 705.8,473.6 C703.4,471.9 701.9,469.1 699.6,467.4 C697.3,465.6 693.3,463.8 692.0,463.1" fill="none" stroke="#e7eaed" stroke-width="0.9"/>
<path d="M768.9269142031936,426.68101794472136 C767.7,426.6 763.7,425.7 761.3,426.2 C758.9,426.7 756.9,429.3 754.5,429.8 C752.1,430.3 749.4,428.9 746.9,429.2 C744.4,429.5 742.1,431.8 739.7,431.8 C737.3,431.8 734.4,430.8 732.4,429.4 C730.4,428.0 728.6,424.2 727.9,423.2" fill="none" stroke="#e4e8eb" stroke-width="0.9"/>
<path d="M648.2432417746463,608.9669390875188 C646.8,607.7 642.7,603.5 639.6,601.2 C636.5,598.9 632.2,597.7 629.8,594.9 C627.4,592.1 625.6,587.9 625.2,584.2 C624.8,580.5 627.0,574.7 627.4,572.8" fill="none" stroke="#e4e8eb" stroke-width="0.9"/>
<path d="M704.0639464253103,579.2797817771325 C705.4,579.2 709.3,579.4 711.9,578.9 C714.5,578.4 717.3,577.8 719.4,576.4 C721.5,575.0 723.8,571.6 724.7,570.6" fill="none" stroke="#e3e7eb" stroke-width="0.9"/>
<path d="M600.3382566468836,755.511507734666 C600.0,756.6 599.5,760.2 598.2,761.9 C596.9,763.6 593.7,765.1 592.8,765.8" fill="none" stroke="#e4e8eb" stroke-width="0.9"/>
<path d="M822.0449039200978,731.653951410927 C820.9,731.8 817.4,732.3 815.0,732.4 C812.6,732.5 810.2,732.1 807.9,732.3 C805.5,732.5 803.2,733.0 800.9,733.5 C798.6,734.0 796.1,734.4 794.0,735.4 C791.9,736.4 789.5,737.6 788.1,739.4 C786.7,741.2 786.1,745.0 785.7,746.1" fill="none" stroke="#e4e8eb" stroke-width="0.9"/>
<path d="M746.3296331592464,650.6257706385978 C747.5,650.1 750.7,648.1 753.1,647.5 C755.5,646.9 758.1,646.7 760.5,647.0 C762.9,647.3 765.1,648.8 767.5,649.5 C769.9,650.2 772.4,651.5 774.7,651.3 C777.0,651.1 779.1,648.9 781.5,648.3 C783.9,647.7 787.7,648.0 788.9,647.9" fill="none" stroke="#e9ecee" stroke-width="0.9"/>
<path d="M749.0353617588579,729.5697841734117 C750.8,729.2 756.3,728.1 759.9,727.2 C763.5,726.3 767.2,725.7 770.7,724.4 C774.2,723.1 777.6,721.5 780.6,719.4 C783.6,717.3 785.7,713.8 788.7,711.8 C791.7,709.8 795.3,707.5 798.8,707.2 C802.3,706.9 807.8,709.5 809.6,709.9" fill="none" stroke="#e3e7eb" stroke-width="0.9"/>
<path d="M681.3634312920472,702.2323889134889 C680.1,703.1 676.6,706.1 674.0,707.7 C671.4,709.3 667.9,709.6 665.7,711.6 C663.5,713.6 662.6,716.9 661.0,719.5 C659.4,722.1 658.3,725.2 656.2,727.4 C654.1,729.6 651.2,730.9 648.6,732.5 C646.0,734.1 642.0,736.3 640.7,737.1" fill="none" stroke="#e9ecee" stroke-width="0.9"/>
<path d="M693.7887659772347,645.2677367998402 C694.2,645.9 695.3,648.3 696.5,649.3 C697.7,650.3 699.4,650.9 700.9,651.3 C702.4,651.7 704.1,651.7 705.7,651.5 C707.3,651.3 708.8,650.5 710.4,650.1 C712.0,649.7 713.5,649.1 715.1,649.2 C716.7,649.3 718.9,650.6 719.7,650.9" fill="none" stroke="#e9ecee" stroke-width="0.9"/>
<path d="M625.6414018201075,720.3879122768847 C625.8,719.1 626.6,715.1 626.6,712.5 C626.6,709.9 625.8,707.3 625.9,704.7 C626.0,702.1 626.9,699.5 627.4,696.9 C627.9,694.3 628.0,691.6 629.1,689.2 C630.2,686.9 631.8,684.4 633.8,682.8 C635.8,681.1 639.7,679.9 640.9,679.3" fill="none" stroke="#e4e8eb" stroke-width="0.9"/>
<path d="M642.969930221799,707.8608486139956 C641.7,707.9 637.9,708.4 635.5,707.8 C633.1,707.2 630.6,705.9 628.8,704.3 C627.0,702.6 626.7,699.4 624.9,697.9 C623.1,696.4 620.2,695.3 617.8,695.3 C615.4,695.2 613.1,697.2 610.7,697.6 C608.3,698.0 604.5,697.7 603.2,697.7" fill="none" stroke="#e9ecee" stroke-width="0.9"/>
<path d="M788.402440450855,693.6852383149235 C790.2,694.4 795.9,696.0 798.9,698.2 C801.9,700.4 804.4,703.7 806.4,706.9 C808.4,710.1 810.4,713.8 811.1,717.4 C811.8,721.0 811.6,725.3 810.4,728.8 C809.2,732.3 804.9,734.7 803.8,738.2 C802.6,741.7 803.5,747.7 803.5,749.6" fill="none" stroke="#e4e8eb" stroke-width="0.9"/>
<path d="M594.2423188684876,737.7008383836678 C595.0,737.1 597.0,735.0 598.6,734.1 C600.2,733.2 602.5,733.6 603.9,732.6 C605.3,731.6 606.0,729.4 607.1,727.9 C608.2,726.4 608.9,724.4 610.4,723.4 C611.9,722.4 614.2,722.8 615.9,722.1 C617.6,721.4 619.9,719.7 620.7,719.2" fill="none" stroke="#e3e7eb" stroke-width="0.9"/>
<path d="M700.9863984991823,699.9916556069722 C700.5,701.8 698.5,707.3 698.0,711.0 C697.5,714.7 696.8,718.9 698.0,722.3 C699.2,725.7 702.7,728.2 705.1,731.2 C707.5,734.2 710.2,736.9 712.2,740.1 C714.2,743.3 715.1,747.1 716.9,750.5 C718.6,753.9 721.7,758.6 722.7,760.2" fill="none" stroke="#e3e7eb" stroke-width="0.9"/>
<path d="M668.8988492626618,792.9059697977884 C669.8,793.4 672.4,795.7 674.4,796.1 C676.4,796.5 678.6,795.8 680.7,795.6 C682.8,795.4 685.1,795.6 687.1,795.0 C689.1,794.4 690.6,792.6 692.6,792.0 C694.6,791.4 697.0,791.8 698.9,791.1 C700.8,790.4 703.4,788.3 704.3,787.7" fill="none" stroke="#e9ecee" stroke-width="0.9"/>
<path d="M706.7971831654602,672.7050975745454 C706.7,673.9 707.1,677.9 706.3,680.0 C705.5,682.1 702.7,683.5 701.7,685.6 C700.7,687.7 700.5,690.4 700.2,692.8 C699.9,695.2 699.5,697.6 699.9,700.0 C700.3,702.4 702.3,704.6 702.4,706.9 C702.5,709.2 700.6,712.6 700.2,713.8" fill="none" stroke="#e7eaed" stroke-width="0.9"/>
<path d="M768.2178679029475,745.6649811291409 C769.0,745.9 771.3,746.8 772.8,746.8 C774.3,746.8 775.9,746.0 777.5,745.9 C779.1,745.8 780.7,745.9 782.3,746.0 C783.9,746.1 785.4,746.2 787.0,746.3 C788.6,746.4 790.2,746.6 791.8,746.4 C793.4,746.2 795.6,745.4 796.4,745.2" fill="none" stroke="#e9ecee" stroke-width="0.9"/>
<path d="M691.6515816455342,627.6506392035683 C692.4,627.9 694.9,628.5 696.1,629.4 C697.3,630.3 698.1,631.9 699.0,633.2 C699.9,634.5 700.9,635.8 701.5,637.2 C702.1,638.7 702.0,640.4 702.5,641.9 C703.0,643.4 703.9,644.9 704.2,646.4 C704.5,647.9 704.2,650.3 704.2,651.1" fill="none" stroke="#e3e7eb" stroke-width="0.9"/>
<path d="M799.4502670192562,813.6583670635681 C800.7,813.8 804.9,813.7 807.1,814.7 C809.3,815.7 810.7,818.5 812.9,819.7 C815.1,820.9 817.8,821.4 820.3,821.9 C822.8,822.4 825.7,821.8 828.0,822.7 C830.3,823.6 831.8,826.6 834.1,827.4 C836.4,828.2 840.5,827.4 841.8,827.4" fill="none" stroke="#e9ecee" stroke-width="0.9"/>
<path d="M669.0846978227597,757.6082752695048 C669.8,757.7 672.1,757.6 673.6,757.9 C675.1,758.2 676.6,758.5 677.8,759.3 C679.0,760.1 679.5,761.8 680.6,762.8 C681.7,763.8 683.2,764.5 684.2,765.5 C685.2,766.5 686.1,767.8 686.9,769.1 C687.7,770.4 688.6,772.4 689.0,773.1" fill="none" stroke="#e4e8eb" stroke-width="0.9"/>
<path d="M675.770200016371,709.3519219777568 C674.5,709.1 670.5,707.9 668.0,708.1 C665.5,708.3 663.0,710.1 660.5,710.3 C658.0,710.5 655.2,710.0 652.7,709.2 C650.2,708.4 647.7,707.2 645.7,705.6 C643.7,704.0 642.0,701.7 640.9,699.4 C639.8,697.1 639.2,693.1 638.9,691.8" fill="none" stroke="#e7eaed" stroke-width="0.9"/>
<path d="M659.0951463028255,748.7405494596749 C658.9,750.4 657.7,755.4 658.0,758.7 C658.3,762.0 660.6,765.0 661.0,768.3 C661.4,771.6 660.2,775.0 660.6,778.3 C661.0,781.5 661.8,785.2 663.6,787.8 C665.4,790.4 668.6,792.9 671.6,793.9 C674.6,794.9 680.0,793.9 681.7,793.9" fill="none" stroke="#e3e7eb" stroke-width="0.9"/>
<path d="M743.3868468394835,684.7960982504709 C741.5,684.5 735.7,682.7 732.0,682.9 C728.3,683.1 724.1,684.2 720.9,686.2 C717.7,688.2 715.5,691.7 712.9,694.6 C710.3,697.5 708.4,701.4 705.3,703.4 C702.2,705.4 697.6,705.1 694.3,706.9 C691.0,708.7 686.8,713.1 685.3,714.3" fill="none" stroke="#e4e8eb" stroke-width="0.9"/>
<path d="M787.4491680771664,734.005965023672 C787.6,735.0 787.7,738.2 788.4,740.1 C789.1,742.0 790.3,743.7 791.4,745.5 C792.5,747.3 793.3,749.3 794.7,750.7 C796.1,752.1 798.1,753.2 800.0,753.9 C801.9,754.6 804.1,754.9 806.1,755.0 C808.1,755.1 811.2,754.4 812.2,754.3" fill="none" stroke="#e7eaed" stroke-width="0.9"/>
<path d="M658.6799690306511,792.7400174714692 C659.9,792.2 663.4,790.0 665.9,789.5 C668.4,789.0 671.3,789.2 673.9,789.5 C676.5,789.8 679.6,789.9 681.7,791.3 C683.8,792.6 684.5,796.1 686.6,797.6 C688.7,799.1 691.6,799.4 694.1,800.3 C696.6,801.2 700.4,802.4 701.6,802.8" fill="none" stroke="#e7eaed" stroke-width="0.9"/>
<path d="M804.7180074104398,1090.7659434525585 C805.7,1090.5 809.0,1090.0 810.8,1089.0 C812.6,1088.0 814.9,1085.5 815.7,1084.8" fill="none" stroke="#e7eaed" stroke-width="0.9"/>
<path d="M830.1693443755291,779.0362539871385 C830.7,777.9 831.7,774.2 833.1,772.1 C834.5,770.0 836.3,767.8 838.4,766.7 C840.5,765.6 844.6,765.7 845.8,765.5" fill="none" stroke="#e3e7eb" stroke-width="0.9"/>
<path d="M627.8112998205206,777.0074182414228 C628.6,777.5 631.2,778.9 632.7,780.0 C634.2,781.1 636.4,783.0 637.1,783.6" fill="none" stroke="#e7eaed" stroke-width="0.9"/>
<path d="M797.3872165026655,1035.8290369299673 C796.3,1036.3 792.7,1037.2 791.0,1038.6 C789.3,1040.0 787.8,1042.3 787.2,1044.4 C786.7,1046.5 787.5,1049.0 787.7,1051.3 C787.9,1053.6 788.1,1055.9 788.3,1058.2 C788.5,1060.5 788.7,1062.9 789.1,1065.2 C789.5,1067.5 790.4,1070.8 790.7,1071.9" fill="none" stroke="#e9ecee" stroke-width="0.9"/>
<path d="M754.5835077780416,653.8674957121135 C753.1,653.8 748.5,652.9 745.5,653.2 C742.5,653.5 739.6,655.8 736.8,655.5 C734.0,655.2 731.1,653.3 728.5,651.7 C725.9,650.1 723.9,647.7 721.4,646.0 C718.9,644.3 716.5,642.0 713.7,641.3 C710.9,640.6 706.2,641.9 704.7,642.0" fill="none" stroke="#e3e7eb" stroke-width="0.9"/>
<path d="M689.3026421074799,655.0259496171699 C689.9,655.6 691.4,657.5 692.6,658.6 C693.8,659.7 695.4,660.2 696.5,661.4 C697.6,662.6 698.0,664.5 699.1,665.6 C700.2,666.7 701.8,667.6 703.3,667.9 C704.8,668.2 706.6,667.8 708.1,667.2 C709.6,666.6 711.4,664.9 712.0,664.4" fill="none" stroke="#e9ecee" stroke-width="0.9"/>
<path d="M310.4602886742152,1013.1333440994154 C311.1,1014.0 313.5,1016.3 314.1,1018.2 C314.7,1020.1 313.7,1022.6 314.3,1024.5 C314.9,1026.4 316.6,1028.0 317.7,1029.8 C318.8,1031.5 320.4,1033.1 321.2,1035.0 C322.0,1036.9 322.6,1039.2 322.3,1041.2 C322.0,1043.2 319.8,1045.9 319.3,1046.8" fill="none" stroke="#e7eaed" stroke-width="0.9"/>
<path d="M299.7599342475918,1062.4541732274606 C299.4,1061.7 298.2,1059.6 297.8,1058.1 C297.4,1056.6 296.9,1054.8 297.1,1053.3 C297.3,1051.8 298.1,1050.3 298.9,1048.9 C299.6,1047.5 300.4,1046.0 301.6,1044.9 C302.8,1043.9 304.4,1043.2 305.9,1042.6 C307.4,1042.0 309.7,1041.4 310.5,1041.2" fill="none" stroke="#e7eaed" stroke-width="0.9"/>
<path d="M286.94119061851154,1118.4939261665982 C287.6,1118.1 289.3,1116.6 290.7,1116.1 C292.1,1115.6 293.9,1115.9 295.1,1115.2 C296.3,1114.5 296.9,1112.7 298.1,1111.9 C299.3,1111.1 301.2,1111.2 302.3,1110.3 C303.4,1109.4 304.0,1107.9 305.0,1106.8 C306.0,1105.7 307.8,1104.2 308.3,1103.7" fill="none" stroke="#e3e7eb" stroke-width="0.9"/>
<path d="M363.31529289345184,919.3251550830497 C363.5,920.5 364.3,924.0 364.7,926.3 C365.1,928.6 365.1,931.1 366.0,933.2 C366.9,935.3 368.4,937.8 370.2,939.0 C372.0,940.2 375.1,939.4 377.0,940.6 C378.9,941.8 379.8,944.4 381.3,946.3 C382.8,948.1 385.1,950.8 385.9,951.7" fill="none" stroke="#e9ecee" stroke-width="0.9"/>
<path d="M327.07491777050177,857.8339984225707 C326.4,858.4 324.4,859.9 323.2,861.0 C322.0,862.1 320.4,863.1 319.7,864.5 C318.9,865.9 319.0,867.8 318.7,869.4 C318.4,871.0 318.2,872.7 318.0,874.3 C317.8,875.9 317.0,877.7 317.3,879.2 C317.6,880.8 319.3,882.9 319.7,883.6" fill="none" stroke="#e7eaed" stroke-width="0.9"/>
<path d="M289.94485614459654,1013.8713329842449 C290.0,1014.6 289.6,1016.9 290.0,1018.3 C290.4,1019.7 291.9,1020.8 292.1,1022.2 C292.4,1023.6 291.9,1025.3 291.5,1026.7 C291.1,1028.1 290.8,1029.7 289.9,1030.8 C289.0,1031.9 287.2,1032.3 286.3,1033.4 C285.4,1034.5 284.6,1036.7 284.3,1037.4" fill="none" stroke="#e3e7eb" stroke-width="0.9"/>
<path d="M360.90054827239294,943.9744225578163 C362.0,943.1 364.9,939.8 367.3,938.7 C369.7,937.6 373.2,938.5 375.6,937.4 C378.0,936.3 379.4,933.0 381.9,932.1 C384.3,931.2 387.5,931.7 390.3,931.9 C393.1,932.1 395.8,933.0 398.5,933.3 C401.2,933.6 405.4,933.5 406.8,933.5" fill="none" stroke="#e3e7eb" stroke-width="0.9"/>
<path d="M349.6984972639168,944.2001617710008 C349.3,943.0 347.6,939.6 347.1,937.2 C346.6,934.8 347.7,931.9 346.9,929.7 C346.1,927.5 343.4,926.0 342.4,923.8 C341.4,921.6 341.8,918.7 340.9,916.4 C340.0,914.1 338.0,912.3 336.9,910.1 C335.8,907.9 334.8,904.2 334.4,903.0" fill="none" stroke="#e3e7eb" stroke-width="0.9"/>
<path d="M332.794955098475,1064.7842889740007 C333.5,1065.1 335.5,1066.1 337.0,1066.5 C338.5,1066.9 340.1,1066.8 341.6,1067.0 C343.1,1067.2 344.6,1067.4 346.1,1067.6 C347.6,1067.8 349.9,1068.3 350.6,1068.4" fill="none" stroke="#e3e7eb" stroke-width="0.9"/>
<path d="M351.9274054125553,869.6001293291159 C350.7,869.3 346.6,868.9 344.5,867.6 C342.4,866.3 341.4,863.2 339.5,861.6 C337.6,860.0 335.2,858.5 332.8,857.8 C330.4,857.1 327.5,857.0 325.1,857.6 C322.7,858.2 320.8,860.4 318.5,861.5 C316.2,862.6 312.4,863.7 311.2,864.1" fill="none" stroke="#e3e7eb" stroke-width="0.9"/>
<path d="M316.37104931621553,898.3066435030902 C317.9,898.5 322.3,899.5 325.3,899.7 C328.3,899.9 331.3,899.1 334.3,899.3 C337.3,899.5 340.2,900.4 343.2,900.7 C346.2,901.0 349.5,900.2 352.1,901.3 C354.8,902.4 357.2,904.9 359.1,907.1 C361.1,909.3 363.0,913.4 363.8,914.7" fill="none" stroke="#e7eaed" stroke-width="0.9"/>
<path d="M251.69041790805912,784.0576647375718 C251.5,784.9 250.6,787.6 250.8,789.3 C251.0,791.0 252.3,792.6 252.8,794.3 C253.3,796.0 253.8,797.7 254.0,799.5 C254.2,801.3 253.6,803.2 254.0,804.9 C254.4,806.6 255.4,808.2 256.2,809.8 C257.0,811.4 258.5,813.6 259.0,814.4" fill="none" stroke="#e9ecee" stroke-width="0.9"/>
<path d="M298.7826733448786,915.5272274554573 C300.2,916.7 304.7,919.8 307.1,922.5 C309.5,925.2 310.2,929.5 312.9,931.6 C315.6,933.7 320.2,933.1 323.2,935.0 C326.2,936.9 328.8,939.8 330.8,942.7 C332.8,945.6 333.8,949.3 335.4,952.5 C337.0,955.7 339.6,960.5 340.4,962.1" fill="none" stroke="#e9ecee" stroke-width="0.9"/>
<path d="M289.67108081382787,1079.8414419483752 C290.0,1081.6 292.2,1087.1 291.8,1090.5 C291.4,1093.9 288.3,1097.0 287.4,1100.4 C286.5,1103.9 285.7,1107.9 286.5,1111.2 C287.3,1114.5 290.4,1117.2 292.0,1120.5 C293.6,1123.8 295.0,1127.2 295.8,1130.7 C296.6,1134.2 296.6,1139.7 296.8,1141.5" fill="none" stroke="#e3e7eb" stroke-width="0.9"/>
<path d="M313.854363876769,1059.3883803063793 C312.1,1059.7 306.7,1061.7 303.4,1061.1 C300.1,1060.5 296.7,1058.3 294.2,1056.0 C291.7,1053.7 290.3,1050.2 288.4,1047.2 C286.5,1044.2 284.9,1041.1 283.0,1038.1 C281.1,1035.1 278.2,1030.8 277.3,1029.3" fill="none" stroke="#e4e8eb" stroke-width="0.9"/>
<path d="M402.92932365118105,980.9882963659088 C402.3,979.7 401.0,975.5 399.4,973.3 C397.8,971.1 395.1,969.6 393.2,967.6 C391.3,965.6 390.2,962.5 388.0,961.0 C385.8,959.5 382.2,959.8 380.0,958.3 C377.8,956.8 376.9,953.4 374.7,951.7 C372.5,950.1 368.2,949.0 366.9,948.4" fill="none" stroke="#e4e8eb" stroke-width="0.9"/>
<path d="M248.10280153476793,804.4216368510079 C249.5,805.5 253.4,809.4 256.5,810.9 C259.6,812.4 264.0,811.6 266.8,813.4 C269.6,815.2 271.3,818.7 273.5,821.5 C275.7,824.3 278.1,827.0 279.9,830.0 C281.7,833.0 283.7,836.3 284.2,839.7 C284.7,843.1 283.2,848.5 283.0,850.2" fill="none" stroke="#e9ecee" stroke-width="0.9"/>
<path d="M294.59936708697614,819.7412491396701 C296.2,820.1 300.9,821.5 304.2,821.7 C307.5,821.9 310.8,821.5 314.1,821.2 C317.4,820.9 322.2,820.0 323.8,819.7" fill="none" stroke="#e3e7eb" stroke-width="0.9"/>
<path d="M330.4557278883583,909.49610937786 C329.4,908.2 326.2,904.3 324.1,901.7 C322.0,899.1 320.5,895.6 317.9,893.7 C315.3,891.8 311.7,891.3 308.5,890.2 C305.3,889.1 302.0,887.2 298.8,887.2 C295.6,887.2 292.5,889.5 289.3,890.4 C286.1,891.3 281.1,892.3 279.5,892.7" fill="none" stroke="#e4e8eb" stroke-width="0.9"/>
<path d="M349.16277323487486,909.2384278732349 C348.1,910.1 345.3,913.1 343.0,914.4 C340.7,915.7 337.4,915.6 335.4,917.2 C333.4,918.8 332.1,921.5 330.8,923.9 C329.5,926.3 328.0,928.8 327.7,931.4 C327.4,934.0 329.1,936.6 329.2,939.3 C329.3,942.0 328.5,946.0 328.4,947.4" fill="none" stroke="#e7eaed" stroke-width="0.9"/>
<path d="M283.99023558706017,851.2481114159771 C285.5,850.6 290.0,847.6 293.1,847.4 C296.2,847.2 299.5,849.1 302.6,850.2 C305.7,851.3 308.7,853.6 311.9,853.9 C315.1,854.2 318.5,853.1 321.6,852.1 C324.7,851.1 328.3,850.1 330.7,848.0 C333.1,845.9 335.2,841.1 336.1,839.7" fill="none" stroke="#e9ecee" stroke-width="0.9"/>
<path d="M320.2046991050636,1080.7223628761856 C319.5,1081.6 317.6,1084.2 316.2,1085.8 C314.8,1087.4 312.9,1088.8 311.9,1090.6 C310.9,1092.4 311.3,1095.1 310.2,1096.8 C309.1,1098.5 306.8,1099.5 305.0,1100.6 C303.2,1101.7 301.2,1103.1 299.2,1103.4 C297.2,1103.7 293.9,1102.4 292.9,1102.2" fill="none" stroke="#e7eaed" stroke-width="0.9"/>
<path d="M138.81363046409996,783.5294065514505 C138.5,782.1 138.0,777.5 137.1,774.7 C136.2,771.9 135.1,768.8 133.3,766.5 C131.5,764.2 127.3,761.9 126.1,761.0" fill="none" stroke="#e3e7eb" stroke-width="0.9"/>
<path d="M60.622915357663786,710.9235469883987 C60.1,709.6 58.6,705.6 57.5,703.0 C56.4,700.4 54.4,698.0 54.0,695.3 C53.6,692.6 55.1,689.6 54.9,686.8 C54.7,684.0 54.0,681.1 52.7,678.6 C51.4,676.1 49.4,673.9 47.3,672.0 C45.2,670.1 41.5,668.0 40.3,667.2" fill="none" stroke="#e7eaed" stroke-width="0.9"/>
<path d="M180.2405963666209,834.1964874188873 C179.7,832.8 178.5,828.5 177.0,826.1 C175.5,823.7 172.2,822.3 171.1,819.8 C169.9,817.3 170.9,813.9 170.1,811.1 C169.3,808.4 166.7,806.0 166.3,803.3 C166.0,800.6 166.6,797.1 168.0,794.8 C169.4,792.4 173.6,790.1 174.7,789.2" fill="none" stroke="#e7eaed" stroke-width="0.9"/>
<path d="M106.9943052575542,836.2815405734882 C107.3,834.7 108.9,829.9 108.8,826.8 C108.7,823.7 107.0,820.6 106.6,817.4 C106.2,814.2 107.2,810.7 106.2,807.7 C105.2,804.8 103.1,801.9 100.8,799.7 C98.5,797.5 95.4,796.0 92.6,794.5 C89.8,793.0 85.3,791.2 83.8,790.6" fill="none" stroke="#e4e8eb" stroke-width="0.9"/>
<path d="M87.98206690004704,615.0869779483742 C89.0,616.4 91.5,620.6 93.8,622.8 C96.1,625.0 99.8,625.7 102.0,628.0 C104.2,630.3 105.6,633.5 106.8,636.5 C108.0,639.5 108.5,642.7 109.0,645.9 C109.5,649.1 110.1,652.3 110.1,655.5 C110.1,658.7 109.3,663.6 109.2,665.2" fill="none" stroke="#e7eaed" stroke-width="0.9"/>
<path d="M63.205070216748,638.5695637345136 C62.2,638.7 59.2,639.7 57.2,639.4 C55.2,639.1 53.5,637.5 51.5,637.0 C49.5,636.5 47.4,636.7 45.4,636.7 C43.4,636.8 41.3,637.4 39.3,637.3 C37.3,637.2 35.4,635.9 33.4,636.0 C31.4,636.1 28.5,637.4 27.5,637.7" fill="none" stroke="#e9ecee" stroke-width="0.9"/>
<path d="M212.56645446674082,815.7337164173471 C212.0,816.1 210.4,817.8 209.1,818.2 C207.8,818.6 206.2,818.0 204.9,818.4 C203.6,818.8 202.3,819.8 201.3,820.8 C200.3,821.8 199.4,823.0 198.8,824.2 C198.2,825.5 198.4,827.0 197.9,828.3 C197.4,829.6 196.1,831.4 195.7,832.0" fill="none" stroke="#e7eaed" stroke-width="0.9"/>
<path d="M136.15151455411925,633.2500089321038 C135.2,632.3 132.2,629.4 130.3,627.5 C128.4,625.6 126.2,623.8 124.5,621.7 C122.8,619.6 120.7,615.9 119.9,614.8" fill="none" stroke="#e3e7eb" stroke-width="0.9"/>
<path d="M110.33178208235522,613.0609180576544 C109.1,613.4 105.5,614.0 103.2,614.8 C100.9,615.6 98.6,616.5 96.6,617.9 C94.6,619.3 92.7,621.0 91.3,623.0 C89.9,625.0 89.7,627.7 88.4,629.7 C87.1,631.7 85.4,633.9 83.4,635.0 C81.4,636.1 77.4,636.2 76.2,636.5" fill="none" stroke="#e7eaed" stroke-width="0.9"/>
<path d="M238.75373486519803,830.9958486270266 C237.9,830.7 235.4,829.2 233.7,829.1 C232.0,829.0 230.3,830.4 228.5,830.4 C226.7,830.4 224.9,829.3 223.1,829.4 C221.3,829.5 219.7,830.5 217.9,830.8 C216.1,831.1 214.3,831.2 212.5,831.0 C210.7,830.8 208.2,829.9 207.3,829.7" fill="none" stroke="#e7eaed" stroke-width="0.9"/>
<path d="M100.27645075219989,756.9231914807915 C100.9,755.3 103.4,750.7 104.2,747.4 C105.0,744.1 105.0,738.9 105.2,737.2" fill="none" stroke="#e7eaed" stroke-width="0.9"/>
<path d="M176.10726971364076,768.1138446801625 C177.6,767.9 182.3,766.7 185.3,766.9 C188.3,767.1 191.5,768.1 194.1,769.6 C196.7,771.1 198.6,773.8 201.1,775.6 C203.6,777.4 206.7,778.4 209.2,780.2 C211.7,782.0 213.6,784.6 216.1,786.3 C218.6,788.0 222.9,789.9 224.3,790.6" fill="none" stroke="#e9ecee" stroke-width="0.9"/>
</g>
<g id="grey" fill="none" stroke="#a3a3a3" stroke-width="3.4" stroke-linejoin="round" stroke-linecap="round">
<path d="M305.0,336.0 C307.7,339.3 316.0,350.3 321.0,356.0 C326.0,361.7 329.7,368.0 335.0,370.0 C340.3,372.0 348.5,370.7 353.0,368.0 C357.5,365.3 358.3,359.3 362.0,354.0 C365.7,348.7 369.5,340.3 375.0,336.0 C380.5,331.7 389.2,330.0 395.0,328.0 C400.8,326.0 407.5,324.7 410.0,324.0"/>
<path d="M355.0,416.0 C357.5,416.0 366.2,415.3 370.0,416.0 C373.8,416.7 376.2,417.3 378.0,420.0 C379.8,422.7 380.2,427.7 381.0,432.0 C381.8,436.3 381.8,441.3 383.0,446.0 C384.2,450.7 385.5,455.7 388.0,460.0 C390.5,464.3 393.3,469.3 398.0,472.0 C402.7,474.7 410.7,475.8 416.0,476.0 C421.3,476.2 425.0,475.0 430.0,473.0 C435.0,471.0 441.0,467.5 446.0,464.0 C451.0,460.5 455.0,456.7 460.0,452.0 C465.0,447.3 470.7,440.8 476.0,436.0 C481.3,431.2 487.0,427.3 492.0,423.0 C497.0,418.7 502.3,414.5 506.0,410.0 C509.7,405.5 512.3,401.0 514.0,396.0 C515.7,391.0 515.7,382.7 516.0,380.0"/>
<path d="M420.0,396.0 C424.0,393.3 437.5,384.5 444.0,380.0 C450.5,375.5 453.3,373.1 459.0,369.0 C464.7,364.9 472.9,359.6 478.0,355.6 C483.1,351.6 486.1,349.1 489.6,345.0 C493.1,340.9 496.8,335.5 499.0,331.0 C501.2,326.5 502.2,322.8 503.0,318.0 C503.8,313.2 503.6,306.8 504.0,302.0 C504.4,297.2 504.0,293.3 505.6,289.0 C507.2,284.7 512.3,278.5 513.6,276.4"/>
<path d="M521.6,351.6 C524.0,349.5 530.9,342.8 536.0,338.8 C541.1,334.8 546.7,331.1 552.0,327.6 C557.3,324.1 562.7,321.1 568.0,318.0 C573.3,314.9 581.3,310.7 584.0,309.2"/>
<path d="M219.0,509.5 C225.8,509.2 249.8,508.2 260.0,508.0 C270.2,507.8 272.2,508.2 280.0,508.0 C287.8,507.8 297.0,505.8 307.0,506.5 C317.0,507.2 329.5,509.8 340.0,512.5 C350.5,515.2 360.0,520.6 370.0,523.0 C380.0,525.4 385.0,526.2 400.0,526.6 C415.0,527.0 442.5,525.0 460.0,525.4 C477.5,525.8 491.5,527.4 505.0,529.0 C518.5,530.6 531.0,533.7 541.0,535.0 C551.0,536.3 558.5,536.8 565.0,537.0 C571.5,537.2 575.3,536.9 580.0,536.0 C584.7,535.1 590.8,532.2 593.0,531.5"/>
<path d="M25.5,601.0 C33.8,601.8 58.2,605.5 75.0,605.5 C91.8,605.5 116.5,602.5 126.0,601.0 C135.5,599.5 131.0,597.2 132.0,596.5"/>
<path d="M141.0,598.6 C145.5,596.5 156.5,589.6 168.0,586.0 C179.5,582.4 196.5,580.2 210.0,577.0 C223.5,573.8 237.3,570.2 249.0,566.5 C260.7,562.8 269.8,558.8 280.0,555.0 C290.2,551.2 298.5,546.7 310.0,544.0 C321.5,541.3 337.5,539.4 349.0,538.6 C360.5,537.9 368.0,537.1 379.0,539.5 C390.0,541.9 401.5,548.8 415.0,553.0 C428.5,557.2 445.0,561.5 460.0,565.0 C475.0,568.5 495.0,571.5 505.0,574.0 C515.0,576.5 514.2,577.9 520.0,580.0 C525.8,582.1 533.8,583.9 540.0,586.7 C546.2,589.5 552.3,594.1 557.0,596.7 C561.7,599.3 563.3,600.8 568.0,602.3 C572.7,603.8 579.8,605.0 585.0,605.7 C590.2,606.5 596.7,606.6 599.0,606.8"/>
<path d="M84.0,729.5 C86.5,730.3 92.0,733.3 99.0,734.5 C106.0,735.7 118.0,737.9 126.0,736.6 C134.0,735.4 140.0,731.1 147.0,727.0 C154.0,722.9 161.5,715.2 168.0,712.0 C174.5,708.8 178.0,708.2 186.0,707.5 C194.0,706.8 207.0,706.0 216.0,707.5 C225.0,709.0 232.5,713.5 240.0,716.5 C247.5,719.5 254.3,724.6 261.0,725.5 C267.7,726.4 273.5,723.4 280.0,722.0 C286.5,720.6 295.0,718.4 300.0,717.0 C305.0,715.6 302.3,714.1 310.0,713.5 C317.7,712.9 336.0,712.2 346.0,713.5 C356.0,714.8 362.0,718.0 370.0,721.0 C378.0,724.0 387.0,729.4 394.0,731.5 C401.0,733.6 397.0,733.4 412.0,733.6 C427.0,733.9 466.9,734.9 484.0,733.0 C501.1,731.1 505.2,725.5 514.5,722.3 C523.8,719.1 531.1,716.7 540.0,714.0 C548.9,711.3 563.3,707.3 568.0,706.0"/>
<path d="M322.0,833.0 C325.5,831.2 337.5,826.2 343.0,822.0 C348.5,817.8 346.5,814.1 355.0,808.0 C363.5,801.9 382.5,789.2 394.0,785.5 C405.5,781.8 412.0,783.8 424.0,785.5 C436.0,787.2 452.5,792.5 466.0,796.0 C479.5,799.5 492.5,804.0 505.0,806.5 C517.5,809.0 528.5,810.2 541.0,811.0 C553.5,811.8 569.3,811.1 580.0,811.0 C590.7,810.9 597.3,811.3 605.0,810.5 C612.7,809.7 622.5,806.8 626.0,806.0"/>
<path d="M353.5,850.0 C357.8,848.5 372.9,842.8 379.0,841.0 C385.1,839.2 385.7,839.3 390.0,839.5 C394.3,839.7 398.3,840.8 405.0,842.0 C411.7,843.2 422.5,845.5 430.0,847.0 C437.5,848.5 441.7,850.0 450.0,851.0 C458.3,852.0 458.3,852.7 480.0,853.0 C501.7,853.3 535.7,852.9 580.0,853.0 C624.3,853.1 717.2,853.7 746.0,853.5 C774.8,853.3 751.1,853.0 753.0,852.0 C754.9,851.0 756.8,848.2 757.5,847.5"/>
<path d="M433.0,883.0 C435.5,882.2 430.0,879.2 448.0,878.5 C466.0,877.8 522.3,877.1 541.0,878.5 C559.7,879.9 551.8,883.8 560.0,887.0 C568.2,890.2 580.0,894.0 590.0,897.5 C600.0,901.0 607.5,904.0 620.0,908.0 C632.5,912.0 650.0,917.8 665.0,921.5 C680.0,925.2 695.0,927.6 710.0,930.5 C725.0,933.4 746.0,937.2 755.0,938.6 C764.0,940.0 758.6,939.1 764.0,938.8 C769.4,938.5 783.5,937.0 787.4,936.6"/>
<path d="M348.6,1061.5 C351.3,1062.8 357.3,1068.0 365.0,1069.0 C372.7,1070.0 384.5,1070.0 395.0,1067.5 C405.5,1065.0 416.5,1059.0 428.0,1054.0 C439.5,1049.0 452.0,1040.8 464.0,1037.5 C476.0,1034.2 489.0,1034.8 500.0,1034.5 C511.0,1034.2 520.0,1034.2 530.0,1036.0 C540.0,1037.8 553.3,1042.1 560.0,1045.0 C566.7,1047.9 563.3,1049.8 570.0,1053.5 C576.7,1057.2 590.0,1064.0 600.0,1067.0 C610.0,1070.0 619.0,1070.5 630.0,1071.5 C641.0,1072.5 656.0,1071.2 666.0,1073.0 C676.0,1074.8 681.0,1077.7 690.0,1082.0 C699.0,1086.3 712.5,1094.8 720.0,1099.0 C727.5,1103.2 729.8,1105.4 734.7,1107.3 C739.6,1109.2 744.4,1109.2 749.3,1110.2 C754.2,1111.2 761.5,1112.7 764.0,1113.2"/>
<path d="M281.7,1168.0 C285.3,1168.8 292.1,1172.3 303.5,1172.6 C314.9,1172.8 332.2,1171.8 350.0,1169.5 C367.8,1167.2 390.0,1162.2 410.0,1159.0 C430.0,1155.8 450.0,1152.2 470.0,1150.0 C490.0,1147.8 515.0,1145.8 530.0,1145.5 C545.0,1145.2 548.3,1147.1 560.0,1148.5 C571.7,1149.9 583.3,1152.1 600.0,1154.0 C616.7,1155.9 645.0,1158.0 660.0,1160.0 C675.0,1162.0 682.0,1164.3 690.0,1166.0 C698.0,1167.7 703.4,1168.3 708.0,1170.0 C712.6,1171.7 713.6,1174.0 717.6,1176.0 C721.6,1178.0 726.4,1180.8 732.0,1182.0 C737.6,1183.2 748.0,1183.0 751.2,1183.2"/>
<path d="M311.0,1286.5 C315.5,1282.8 330.0,1271.8 338.0,1264.0 C346.0,1256.2 351.0,1248.5 359.0,1240.0 C367.0,1231.5 378.5,1219.7 386.0,1213.0 C393.5,1206.3 395.0,1204.2 404.0,1200.0 C413.0,1195.8 424.0,1190.8 440.0,1187.5 C456.0,1184.2 483.3,1180.9 500.0,1180.0 C516.7,1179.1 528.3,1180.3 540.0,1182.0 C551.7,1183.7 559.5,1187.2 570.0,1190.0 C580.5,1192.8 592.7,1195.3 603.0,1199.0 C613.3,1202.7 622.5,1208.7 632.0,1212.0 C641.5,1215.3 650.3,1215.4 660.0,1218.6 C669.7,1221.8 680.2,1228.1 690.0,1231.2 C699.8,1234.3 714.0,1236.2 718.8,1237.2"/>
<path d="M341.0,1316.5 C346.5,1315.5 365.0,1312.8 374.0,1310.5 C383.0,1308.2 386.5,1304.8 395.0,1303.0 C403.5,1301.2 412.5,1300.8 425.0,1300.0 C437.5,1299.2 457.5,1298.8 470.0,1298.5 C482.5,1298.2 490.0,1297.8 500.0,1298.5 C510.0,1299.2 522.5,1300.8 530.0,1303.0 C537.5,1305.2 540.0,1309.0 545.0,1312.0 C550.0,1315.0 553.8,1318.7 560.0,1321.0 C566.2,1323.3 571.3,1321.3 582.0,1326.0 C592.7,1330.7 616.3,1344.8 624.0,1349.0 C631.7,1353.2 627.3,1350.7 628.0,1351.0"/>
</g>
<g id="purple" fill="none" stroke="#c280d2" stroke-width="2.6" stroke-linecap="round" stroke-linejoin="round">
<path d="M370.0,337.0 C373.3,335.7 383.3,330.8 390.0,329.0 C396.7,327.2 406.7,326.5 410.0,326.0"/>
<path d="M393.0,330.0 C394.5,330.2 399.0,330.3 402.0,331.0 C405.0,331.7 409.5,333.5 411.0,334.0"/>
<path d="M336.0,366.0 L336.0,382.0"/>
<path d="M471.0,346.0 C472.2,347.5 474.3,352.2 478.0,355.0 C481.7,357.8 490.5,361.7 493.0,363.0"/>
<path d="M542.0,366.0 C546.3,365.9 560.3,366.0 568.0,365.7 C575.7,365.4 582.7,365.3 588.0,364.0 C593.3,362.7 598.0,359.0 600.0,358.0"/>
<path d="M769.5,1146.5 C767.9,1150.4 763.9,1161.3 759.6,1170.0 C755.4,1178.7 749.4,1189.2 744.0,1198.8 C738.6,1208.4 732.6,1219.1 727.2,1227.6 C721.8,1236.1 716.9,1241.3 711.6,1250.0 C706.3,1258.7 703.7,1267.1 695.4,1279.8 C687.1,1292.5 673.0,1313.8 661.8,1326.0 C650.6,1338.2 638.1,1344.2 628.2,1353.3 C618.3,1362.4 606.5,1376.0 602.2,1380.6"/>
<path d="M299.0,1274.5 C302.5,1277.8 313.0,1287.2 320.0,1294.0 C327.0,1300.8 334.8,1308.8 341.0,1315.0 C347.2,1321.2 354.8,1328.8 357.5,1331.5"/>
</g>
<g stroke-linecap="round" fill="none"><path d="M589.5,289.1 L611.5,289.1" stroke="#c880d2" stroke-width="4.8"/><path d="M589.5,301.1 L611.5,301.1" stroke="#a8a8a8" stroke-width="4.8"/><path d="M590,316 L606,316" stroke="#5d67e2" stroke-width="3.6"/><path d="M590,328 L606,328" stroke="#e0404e" stroke-width="3.6"/></g><polygon points="615.5,316 604,310.5 606.5,316 604,321.5" fill="#5d67e2"/><polygon points="615.5,328 604,322.5 606.5,328 604,333.5" fill="#e0404e"/>
<g id="txt">
<text x="88.75" y="410.9" class="cont" textLength="146.2" lengthAdjust="spacingAndGlyphs">СЕВЕРНАЯ АМЕРИКА</text>
<text x="240" y="463.6" class="k" textLength="38.0" lengthAdjust="spacingAndGlyphs">КАНАДА</text>
<text x="303.75" y="328.1" class="bp" textLength="83.8" lengthAdjust="spacingAndGlyphs">АРКТИЧЕСКИЙ</text>
<text x="383.75" y="351.1" class="c" textLength="36.2" lengthAdjust="spacingAndGlyphs">Девисов</text>
<text x="383.75" y="361.1" class="c" textLength="31.2" lengthAdjust="spacingAndGlyphs">пролив</text>
<text x="370" y="372.4" class="c" textLength="22.5" lengthAdjust="spacingAndGlyphs">море</text>
<text x="370" y="382.4" class="c" textLength="42.5" lengthAdjust="spacingAndGlyphs">Лабрадор</text>
<text x="284" y="404.6" class="m" textLength="63.0" lengthAdjust="spacingAndGlyphs">п-ов Лабрадор</text>
<text x="361" y="418.5" class="bc" textLength="114.0" lengthAdjust="spacingAndGlyphs">ЛАБРАДОРСКОЕ</text>
<text x="361" y="434.5" class="bc" textLength="62.0" lengthAdjust="spacingAndGlyphs">ТЕЧЕНИЕ</text>
<text x="390" y="405.6" class="bp" textLength="107.0" lengthAdjust="spacingAndGlyphs">СУБАРКТИЧЕСКИЙ</text>
<text x="431" y="338.6" class="k" textLength="31.0" lengthAdjust="spacingAndGlyphs">ДАНИЯ</text>
<text x="417" y="370.6" class="m" textLength="59.0" lengthAdjust="spacingAndGlyphs">о.Гренландия</text>
<text x="501.6" y="359.2" class="m" textLength="48.8" lengthAdjust="spacingAndGlyphs">о.Исландия</text>
<text x="493.6" y="370.4" class="k" textLength="48.8" lengthAdjust="spacingAndGlyphs">ИСЛАНДИЯ</text>
<text x="332.5" y="470.2" class="m" textLength="76.5" lengthAdjust="spacingAndGlyphs">о.Ньюфаундленд</text>
<text x="448" y="302.6" class="cf" textLength="136.0" lengthAdjust="spacingAndGlyphs">Гренландское   море</text>
<text x="618.4" y="293.6" class="lg" textLength="93.6" lengthAdjust="spacingAndGlyphs">-границы океана</text>
<text x="618.4" y="305.6" class="lg" textLength="187.2" lengthAdjust="spacingAndGlyphs">-границы климатических поясов</text>
<text x="618.4" y="319.1" class="lg" textLength="111.6" lengthAdjust="spacingAndGlyphs">-холодные течения</text>
<text x="618.4" y="331.6" class="lg" textLength="100.8" lengthAdjust="spacingAndGlyphs">-тёплые течения</text>
<text x="602" y="365.1" class="k" textLength="62.3" lengthAdjust="spacingAndGlyphs">НОРВЕГИЯ</text>
<text x="656.5" y="380.1" class="c" textLength="54.0" lengthAdjust="spacingAndGlyphs">Ботнический</text>
<text x="661" y="391.2" class="c" textLength="18.0" lengthAdjust="spacingAndGlyphs">залив</text>
<text x="612" y="390.4" class="k2" textLength="51.0" lengthAdjust="spacingAndGlyphs">ШВЕЦИЯ</text>
<text x="721" y="390.4" class="cont" textLength="64.5" lengthAdjust="spacingAndGlyphs">ЕВРАЗИЯ</text>
<text x="595" y="407.1" class="c" textLength="42.0" lengthAdjust="spacingAndGlyphs">Северное</text>
<text x="595" y="419.1" class="c" textLength="23.0" lengthAdjust="spacingAndGlyphs">море</text>
<text x="522" y="427.6" class="k" textLength="84.0" lengthAdjust="spacingAndGlyphs">ВЕЛИКОБРИТАНИЯ</text>
<text x="652" y="440.6" class="k" textLength="49.5" lengthAdjust="spacingAndGlyphs">ГЕРМАНИЯ</text>
<text x="592" y="448.2" class="m" textLength="84.0" lengthAdjust="spacingAndGlyphs">о.Великобритания</text>
<text x="526" y="446.1" class="m" textLength="51.5" lengthAdjust="spacingAndGlyphs">о.Ирландия</text>
<text x="531" y="457.4" class="k" textLength="49.0" lengthAdjust="spacingAndGlyphs">ИРЛАНДИЯ</text>
<text x="611" y="457.1" class="c" textLength="39.0" lengthAdjust="spacingAndGlyphs">Ла-Манш</text>
<text x="613.75" y="464.6" class="c" textLength="21.2" lengthAdjust="spacingAndGlyphs">прол.</text>
<text x="620.5" y="482.6" class="k" textLength="42.0" lengthAdjust="spacingAndGlyphs">ФРАНЦИЯ</text>
<text x="782.5" y="452.6" class="c" textLength="31.5" lengthAdjust="spacingAndGlyphs">Чёрное</text>
<text x="782" y="464.1" class="c" textLength="23.0" lengthAdjust="spacingAndGlyphs">море</text>
<text x="702.5" y="503.1" class="k" textLength="36.0" lengthAdjust="spacingAndGlyphs">ИТАЛИЯ</text>
<text x="608.5" y="524.1" class="m" textLength="78.0" lengthAdjust="spacingAndGlyphs">Пиренейский п-ов</text>
<text x="541" y="530.2" class="k" textLength="61.0" lengthAdjust="spacingAndGlyphs">ПОРТУГАЛИЯ</text>
<text x="602" y="540.2" class="k" textLength="43.5" lengthAdjust="spacingAndGlyphs">ИСПАНИЯ</text>
<text x="674" y="540.2" class="c" textLength="84.0" lengthAdjust="spacingAndGlyphs">Средиземное море</text>
<text x="703.5" y="556.5" class="k2" textLength="38.0" lengthAdjust="spacingAndGlyphs">ТУНИС</text>
<text x="594.5" y="571.1" class="c" textLength="93.0" lengthAdjust="spacingAndGlyphs">Гибралтарский прол.</text>
<text x="792.5" y="574.5" class="k2" textLength="43.5" lengthAdjust="spacingAndGlyphs">ЕГИПЕТ</text>
<text x="670.5" y="584.4" class="k2" textLength="41.0" lengthAdjust="spacingAndGlyphs">АЛЖИР</text>
<text x="746" y="592.0" class="k2" textLength="40.5" lengthAdjust="spacingAndGlyphs">ЛИВИЯ</text>
<text x="602" y="606.6" class="k" textLength="45.0" lengthAdjust="spacingAndGlyphs">МАРОККО</text>
<text x="564.5" y="662.6" class="k" textLength="51.0" lengthAdjust="spacingAndGlyphs">ЗАПАДНАЯ</text>
<text x="564.5" y="673.1" class="k" textLength="40.5" lengthAdjust="spacingAndGlyphs">САХАРА</text>
<text x="736.5" y="669.9" class="cont" textLength="55.1" lengthAdjust="spacingAndGlyphs">АФРИКА</text>
<text x="556" y="702.6" class="k" textLength="62.5" lengthAdjust="spacingAndGlyphs">МАВРИТАНИЯ</text>
<text x="564.5" y="730.1" class="k" textLength="42.0" lengthAdjust="spacingAndGlyphs">СЕНЕГАЛ</text>
<text x="593" y="768.0" class="k2" textLength="46.5" lengthAdjust="spacingAndGlyphs">ГВИНЕЯ</text>
<text x="716" y="785.6" class="k" textLength="40.5" lengthAdjust="spacingAndGlyphs">НИГЕРИЯ</text>
<text x="760.5" y="800.1" class="k" textLength="45.0" lengthAdjust="spacingAndGlyphs">КАМЕРУН</text>
<text x="695.25" y="836.1" class="c" textLength="51.0" lengthAdjust="spacingAndGlyphs">Гвинейский</text>
<text x="695.25" y="846.6" class="c" textLength="23.2" lengthAdjust="spacingAndGlyphs">залив</text>
<text x="756.5" y="842.0" class="k" textLength="58.5" lengthAdjust="spacingAndGlyphs">ЭКВ. ГВИНЕЯ</text>
<text x="765.5" y="865.1" class="k" textLength="30.1" lengthAdjust="spacingAndGlyphs">ГАБОН</text>
<text x="781.5" y="879.2" class="k" textLength="29.1" lengthAdjust="spacingAndGlyphs">КОНГО</text>
<text x="788" y="950.6" class="k" textLength="37.6" lengthAdjust="spacingAndGlyphs">АНГОЛА</text>
<text x="770.4" y="1053.2" class="k" textLength="45.0" lengthAdjust="spacingAndGlyphs">НАМИБИЯ</text>
<text x="771.6" y="1131.6" class="k" textLength="21.9" lengthAdjust="spacingAndGlyphs">ЮАР</text>
<text x="105.6" y="533.2" class="k" textLength="20.4" lengthAdjust="spacingAndGlyphs">США</text>
<text x="24.6" y="597.6" class="k" textLength="42.9" lengthAdjust="spacingAndGlyphs">МЕКСИКА</text>
<text x="172.5" y="576.6" class="c" textLength="76.5" lengthAdjust="spacingAndGlyphs">Саргассово море</text>
<text x="126" y="589.6" class="m" textLength="58.5" lengthAdjust="spacingAndGlyphs">п-ов Флорида</text>
<text x="43.5" y="623.6" class="c" textLength="79.5" lengthAdjust="spacingAndGlyphs">Мексиканский зал.</text>
<text x="44.4" y="654.6" class="m" textLength="59.1" lengthAdjust="spacingAndGlyphs">п-ов Юкатан</text>
<text x="126" y="651.1" class="k" textLength="24.6" lengthAdjust="spacingAndGlyphs">КУБА</text>
<text x="133.5" y="661.6" class="m" textLength="28.5" lengthAdjust="spacingAndGlyphs">о.Куба</text>
<text x="183" y="670.0" class="m" textLength="36.0" lengthAdjust="spacingAndGlyphs">о.Гаити</text>
<text x="56.4" y="683.6" class="k" textLength="30.6" lengthAdjust="spacingAndGlyphs">БЕЛИЗ</text>
<text x="115.5" y="685.6" class="k" textLength="38.1" lengthAdjust="spacingAndGlyphs">ЯМАЙКА</text>
<text x="153" y="679.6" class="k" textLength="28.5" lengthAdjust="spacingAndGlyphs">ГАИТИ</text>
<text x="187.5" y="682.6" class="k" textLength="48.0" lengthAdjust="spacingAndGlyphs">ДОМИНИК.</text>
<text x="187.5" y="693.6" class="k" textLength="26.1" lengthAdjust="spacingAndGlyphs">РЕСП.</text>
<text x="52.5" y="699.6" class="k" textLength="49.0" lengthAdjust="spacingAndGlyphs">ГОНДУРАС</text>
<text x="64" y="715.6" class="k" textLength="54.5" lengthAdjust="spacingAndGlyphs">НИКАРАГУА</text>
<text x="109.5" y="713.1" class="cb" textLength="106.0" lengthAdjust="spacingAndGlyphs">Карибское море</text>
<text x="90" y="766.6" class="k" textLength="40.5" lengthAdjust="spacingAndGlyphs">ПАНАМА</text>
<text x="172" y="767.2" class="k" textLength="55.0" lengthAdjust="spacingAndGlyphs">ВЕНЕСУЭЛА</text>
<text x="123" y="782.6" class="k" textLength="51.0" lengthAdjust="spacingAndGlyphs">КОЛУМБИЯ</text>
<text x="156" y="838.4" class="cont" textLength="55.5" lengthAdjust="spacingAndGlyphs">ЮЖНАЯ</text>
<text x="156.6" y="854.9" class="cont" textLength="66.9" lengthAdjust="spacingAndGlyphs">АМЕРИКА</text>
<text x="313.6" y="941.2" class="k" textLength="48.0" lengthAdjust="spacingAndGlyphs">БРАЗИЛИЯ</text>
<text x="290.6" y="1103.6" class="k" textLength="43.6" lengthAdjust="spacingAndGlyphs">УРУГВАЙ</text>
<text x="295.7" y="1118.2" class="c" textLength="70.3" lengthAdjust="spacingAndGlyphs">Залив Ла-Плата</text>
<text x="279.5" y="1137.3" class="k" textLength="53.0" lengthAdjust="spacingAndGlyphs">АРГЕНТИНА</text>
<text x="274.4" y="1257.1" class="c" textLength="53.1" lengthAdjust="spacingAndGlyphs">Магелланов</text>
<text x="274.4" y="1269.1" class="c" textLength="21.0" lengthAdjust="spacingAndGlyphs">прол.</text>
<text x="326.6" y="1297.1" class="c" textLength="23.4" lengthAdjust="spacingAndGlyphs">прол.</text>
<text x="326.6" y="1308.2" class="c" textLength="32.4" lengthAdjust="spacingAndGlyphs">Дрейка</text>
<text x="345" y="1347.1" class="m" textLength="18.5" lengthAdjust="spacingAndGlyphs">п-ов</text>
<text x="345" y="1357.1" class="m" textLength="78.5" lengthAdjust="spacingAndGlyphs">Антарктический</text>
<text x="411.5" y="1348.6" class="c" textLength="63.0" lengthAdjust="spacingAndGlyphs">море Уэдделла</text>
<text x="369.5" y="1371.5" class="cont" textLength="90.0" lengthAdjust="spacingAndGlyphs">АНТАРКТИДА</text>
<text x="401" y="1019.2" class="cf" textLength="66.0" lengthAdjust="spacingAndGlyphs">Южный тропик</text>
<text x="189" y="523.5" class="rc" textLength="88.5" lengthAdjust="spacingAndGlyphs">ГОЛЬФСРИМ</text>
<text x="178.5" y="649.5" class="rc" textLength="93.0" lengthAdjust="spacingAndGlyphs">АНТИЛЬСКОЕ</text>
<text x="301" y="711.6" class="rc" textLength="165.0" lengthAdjust="spacingAndGlyphs">СЕВЕРНОЕ ПАССАТНОЕ</text>
<text x="276" y="755.4" class="rc" textLength="83.5" lengthAdjust="spacingAndGlyphs">ГВИАНСКОЕ</text>
<text x="630.5" y="803.0" class="rc" textLength="89.5" lengthAdjust="spacingAndGlyphs">ГВИНЕЙСКОЕ</text>
<text x="535" y="865.5" class="rc" textLength="143.5" lengthAdjust="spacingAndGlyphs">ЮЖНОЕ ПАССАТНОЕ</text>
<text x="372.6" y="1055.4" class="rc" textLength="102.0" lengthAdjust="spacingAndGlyphs">БРАЗИЛЬСКОЕ</text>
<text x="472" y="611.0" class="bc" textLength="84.0" lengthAdjust="spacingAndGlyphs">КАНАРСКОЕ</text>
<text x="472" y="627.0" class="bc" textLength="63.0" lengthAdjust="spacingAndGlyphs">ТЕЧЕНИЕ</text>
<text x="647" y="1014.0" class="bc" textLength="99.0" lengthAdjust="spacingAndGlyphs">БЕНГЕЛЬСКОЕ</text>
<text x="647" y="1030.0" class="bc" textLength="61.5" lengthAdjust="spacingAndGlyphs">ТЕЧЕНИЕ</text>
<text x="297.3" y="1188.0" class="bc" textLength="112.7" lengthAdjust="spacingAndGlyphs">ФОЛКЛЕНДСКОЕ</text>
<text x="297.3" y="1203.8" class="bc" textLength="61.4" lengthAdjust="spacingAndGlyphs">ТЕЧЕНИЕ</text>
<text x="476" y="1168.5" class="bc" textLength="205.0" lengthAdjust="spacingAndGlyphs">ТЕЧЕНИЕ ЗАПАДНЫХ ВЕТРОВ</text>
<text x="442" y="506.9" class="bt" textLength="76.0" lengthAdjust="spacingAndGlyphs">УМЕРЕННЫЙ</text>
<text x="445" y="552.9" class="bo" textLength="109.5" lengthAdjust="spacingAndGlyphs">СУБТРОПИЧЕСКИЙ</text>
<text x="371.5" y="771.3" class="bq" textLength="43.5" lengthAdjust="spacingAndGlyphs">СУБЭКВ</text>
<text x="415" y="771.3" class="bf" textLength="96.0" lengthAdjust="spacingAndGlyphs">АТОРИАЛЬНЫЙ</text>
<text x="500.5" y="833.3" class="be" textLength="115.0" lengthAdjust="spacingAndGlyphs">ЭКВАТОРИАЛЬНЫЙ</text>
<text x="623" y="898.3" class="bf" textLength="147.0" lengthAdjust="spacingAndGlyphs">СУБЭКВАТОРИАЛЬНЫЙ</text>
<text x="509" y="1101.4" class="bo" textLength="109.0" lengthAdjust="spacingAndGlyphs">СУБТРОПИЧЕСКИЙ</text>
<text x="635.4" y="1181.9" class="bt" textLength="75.6" lengthAdjust="spacingAndGlyphs">УМЕРЕННЫЙ</text>
<text x="477.5" y="1235.2" class="bp" textLength="130.5" lengthAdjust="spacingAndGlyphs">СУБАНТАРКТИЧЕСКИЙ</text>
<text x="480.5" y="1341.6" class="bp" textLength="105.5" lengthAdjust="spacingAndGlyphs">АНТАРКТИЧЕСКИЙ</text>
<text x="70" y="888.3" class="lg2" textLength="90.5" lengthAdjust="spacingAndGlyphs">-добыча нефти</text>
<text x="70" y="913.7" class="lg2" textLength="76.0" lengthAdjust="spacingAndGlyphs">-добыча газа</text>
<text x="70" y="939.8" class="lg2" textLength="85.0" lengthAdjust="spacingAndGlyphs">-рыболовство</text>
<text x="33" y="972.0" class="lg3" textLength="168.0" lengthAdjust="spacingAndGlyphs">На карте подписаны ТОЛЬКО</text>
<text x="33" y="983.6" class="lg3" textLength="126.0" lengthAdjust="spacingAndGlyphs">крупнейшие страны!!!</text>
<text transform="translate(399.9,899) rotate(-90)" x="0" y="0" class="k" font-size="9.5" textLength="38" lengthAdjust="spacingAndGlyphs">ГАЙАНА</text>
<text transform="translate(416.4,899) rotate(-90)" x="0" y="0" class="k" font-size="9.5" textLength="45" lengthAdjust="spacingAndGlyphs">СУРИНАМ</text>
<text transform="translate(433.4,902) rotate(-90)" x="0" y="0" class="k" font-size="9.5" textLength="48" lengthAdjust="spacingAndGlyphs">ФР.ГВИАНА</text>
</g>
<g id="cur" fill="none" stroke-linecap="round" stroke-linejoin="round">
<path d="M376.0,338.0 C374.3,340.3 368.7,347.0 366.0,352.0 C363.3,357.0 362.2,362.0 360.0,368.0 C357.8,374.0 354.3,382.7 353.0,388.0 C351.7,393.3 352.2,394.7 352.0,400.0 C351.8,405.3 351.5,414.7 352.0,420.0 C352.5,425.3 353.8,427.0 355.0,432.0 C356.2,437.0 358.3,443.7 359.0,450.0 C359.7,456.3 359.5,464.8 359.0,470.0 C358.5,475.2 357.5,478.0 356.0,481.0 C354.5,484.0 351.0,486.8 350.0,488.0" stroke="#5d67e2" stroke-width="5"/>
<polygon points="337,487.5 349,479 354,496" fill="#5d67e2" stroke="#5d67e2" stroke-width="1" stroke-linejoin="round"/>
<path d="M151.5,578.5 C163.8,573.4 200.2,558.0 225.0,548.0 C249.8,538.0 280.8,524.9 300.0,518.5 C319.2,512.1 328.7,512.3 340.0,509.5 C351.3,506.7 357.2,503.6 368.0,501.8 C378.8,500.0 398.8,499.3 405.0,498.8" stroke="#e0404e" stroke-width="3.6"/>
<polygon points="420,498 403.5,494 406.5,505" fill="#e0404e" stroke="#e0404e" stroke-width="1" stroke-linejoin="round"/>
<path d="M428.5,495.4 C433.8,493.2 448.1,487.2 460.0,482.0 C471.9,476.8 486.7,471.3 500.0,464.0 C513.3,456.7 530.0,445.6 540.0,438.0 C550.0,430.4 554.0,425.4 560.0,418.4 C566.0,411.4 571.3,403.1 576.0,396.0 C580.7,388.9 586.0,379.3 588.0,376.0" stroke="#e0404e" stroke-width="4"/>
<polygon points="596.5,357.5 586,372.5 598,373.5" fill="#e0404e" stroke="#e0404e" stroke-width="1" stroke-linejoin="round"/>
<path d="M581.5,589.5 C579.2,592.0 572.5,599.0 568.0,604.5 C563.5,610.0 559.0,616.8 554.7,622.4 C550.5,628.0 546.2,632.4 542.5,638.0 C538.8,643.6 535.2,649.8 532.4,655.9 C529.6,662.0 527.4,670.2 525.7,674.9 C524.0,679.6 522.6,682.5 522.0,684.0" stroke="#5d67e2" stroke-width="5"/>
<polygon points="515.5,675 521.5,684 532.5,679 518.5,697" fill="#5d67e2" stroke="#5d67e2" stroke-width="1" stroke-linejoin="round"/>
<path d="M495.0,709.5 C484.2,711.9 450.8,720.8 430.0,724.0 C409.2,727.2 386.7,728.2 370.0,728.5 C353.3,728.8 341.2,727.3 330.0,726.0 C318.8,724.7 312.0,723.0 303.0,720.6 C294.0,718.2 283.5,714.9 276.0,711.6 C268.5,708.3 262.3,703.9 258.0,700.8 C253.7,697.7 251.3,694.3 250.0,693.0" stroke="#e0404e" stroke-width="3.6"/>
<polygon points="244.5,684.5 247.2,699.5 259.8,692.7" fill="#e0404e" stroke="#e0404e" stroke-width="1" stroke-linejoin="round"/>
<path d="M223.8,683.7 C221.4,682.8 214.8,680.8 209.4,678.3 C204.0,675.8 196.8,672.4 191.4,668.4 C186.0,664.4 180.9,659.4 177.0,654.0 C173.1,648.6 170.0,640.3 168.0,636.0 C166.0,631.7 165.5,629.3 165.0,628.0" stroke="#e0404e" stroke-width="3.6"/>
<polygon points="161.5,614 158,636 163.5,629 170,631.5" fill="#e0404e" stroke="#e0404e" stroke-width="1" stroke-linejoin="round"/>
<path d="M312.0,803.4 C309.0,800.1 300.0,789.9 294.0,783.6 C288.0,777.3 282.0,771.0 276.0,765.6 C270.0,760.2 263.2,754.6 258.0,751.0 C252.8,747.4 247.2,745.2 245.0,744.0" stroke="#e0404e" stroke-width="3.6"/>
<polygon points="233.7,737.7 238.2,751.2 250.8,741.3" fill="#e0404e" stroke="#e0404e" stroke-width="1" stroke-linejoin="round"/>
<path d="M641.25,816.75 C645.6,816.2 658.1,814.4 667.5,813.8 C676.9,813.1 688.8,812.5 697.5,813.0 C706.2,813.5 714.2,815.3 720.0,816.8 C725.8,818.2 730.0,820.7 732.0,821.5" stroke="#e0404e" stroke-width="3.4"/>
<polygon points="741.5,825.5 729,816.5 730,821 727,828.5" fill="#e0404e" stroke="#e0404e" stroke-width="1" stroke-linejoin="round"/>
<path d="M698.0,880.4 C688.3,879.7 659.7,877.6 640.0,876.0 C620.3,874.4 600.0,872.6 580.0,871.0 C560.0,869.4 536.7,868.0 520.0,866.5 C503.3,865.0 493.3,863.8 480.0,862.0 C466.7,860.2 450.8,858.0 440.0,856.0 C429.2,854.0 420.3,851.2 415.0,850.0 C409.7,848.8 409.2,849.2 408.0,849.0" stroke="#e0404e" stroke-width="3.6"/>
<polygon points="399.5,848 413,842.5 412,857" fill="#e0404e" stroke="#e0404e" stroke-width="1" stroke-linejoin="round"/>
<path d="M730.3,1135.1 C732.0,1130.2 737.6,1114.3 740.5,1105.8 C743.4,1097.2 745.7,1092.3 747.8,1083.8 C749.9,1075.2 751.8,1065.5 753.0,1054.5 C754.2,1043.5 755.0,1031.3 755.2,1017.9 C755.4,1004.5 754.6,982.3 754.4,974.0 C754.2,965.7 754.1,969.0 754.0,968.0" stroke="#5d67e2" stroke-width="5"/>
<polygon points="753,951 747,975.5 754,968.5 761,975.5" fill="#5d67e2" stroke="#5d67e2" stroke-width="1" stroke-linejoin="round"/>
<path d="M413.0,996.0 C410.8,998.2 405.5,1003.8 400.0,1009.0 C394.5,1014.2 386.8,1019.5 380.0,1027.0 C373.2,1034.5 365.0,1045.0 359.0,1054.0 C353.0,1063.0 347.3,1072.6 344.0,1081.0 C340.7,1089.4 340.3,1098.2 339.2,1104.5 C338.1,1110.8 337.8,1116.6 337.5,1119.0" stroke="#e0404e" stroke-width="3.6"/>
<polygon points="329,1118 342,1117 338,1135" fill="#e0404e" stroke="#e0404e" stroke-width="1" stroke-linejoin="round"/>
<path d="M299.0,1248.5 C298.1,1246.2 295.0,1240.0 293.4,1235.0 C291.8,1230.0 290.4,1223.9 289.5,1218.3 C288.6,1212.7 287.8,1207.2 287.9,1201.6 C288.0,1196.0 288.5,1189.6 290.0,1184.9 C291.5,1180.2 295.7,1175.6 296.8,1173.7" stroke="#5d67e2" stroke-width="5"/>
<polygon points="300.7,1154 287.9,1169.8 296,1168 301.25,1174.8" fill="#5d67e2" stroke="#5d67e2" stroke-width="1" stroke-linejoin="round"/>
<path d="M299.0,1327.0 C302.5,1321.0 312.5,1304.0 320.0,1291.0 C327.5,1278.0 335.5,1261.5 344.0,1249.0 C352.5,1236.5 361.0,1225.5 371.0,1216.0 C381.0,1206.5 392.5,1198.0 404.0,1192.0 C415.5,1186.0 429.0,1182.8 440.0,1180.0 C451.0,1177.2 455.0,1176.8 470.0,1175.5 C485.0,1174.2 515.0,1172.8 530.0,1172.5 C545.0,1172.2 548.3,1171.8 560.0,1173.5 C571.7,1175.2 583.3,1178.8 600.0,1182.5 C616.7,1186.2 644.0,1192.1 660.0,1196.0 C676.0,1199.9 684.0,1202.9 696.0,1206.0 C708.0,1209.1 724.7,1212.8 732.0,1214.4 C739.3,1216.0 738.7,1215.6 740.0,1215.8" stroke="#5d67e2" stroke-width="5"/>
<path d="M718.2,1201.2 L742,1215.8 L705,1220.4" fill="none" stroke="#5d67e2" stroke-width="5" stroke-linejoin="miter"/>
</g>
<g id="sym">
<path d="M623.75,420 Q626.2,424.1 627.6,432.4 L628.25,436.5 L619.25,436.5 L619.9,432.4 Q621.3,424.1 623.75,420 Z" fill="#2a2a2a"/>
<path d="M583.75,432.5 Q586.5,436.4 588.0,444.1 L588.75,448 L578.75,448 L579.5,444.1 Q581.0,436.4 583.75,432.5 Z" fill="#2a2a2a"/>
<path d="M27,608 Q29.8,613.8 31.2,625.4 L32.0,631.2 L22.0,631.2 L22.8,625.4 Q24.2,613.8 27,608 Z" fill="#2a2a2a"/>
<path d="M32.4,636.8 Q35.7,642.8 37.5,654.8 L38.4,660.8 L26.4,660.8 L27.3,654.8 Q29.1,642.8 32.4,636.8 Z" fill="#2a2a2a"/>
<path d="M118.5,741 Q121.0,745.5 122.3,754.5 L123.0,759 L114.0,759 L114.7,754.5 Q116.0,745.5 118.5,741 Z" fill="#2a2a2a"/>
<path d="M175.5,729.5 Q178.2,734.6 179.8,744.9 L180.5,750 L170.5,750 L171.2,744.9 Q172.8,734.6 175.5,729.5 Z" fill="#2a2a2a"/>
<path d="M234.2,745.8 Q236.7,750.1 238.0,758.7 L238.7,763 L229.7,763 L230.4,758.7 Q231.7,750.1 234.2,745.8 Z" fill="#2a2a2a"/>
<path d="M274.2,780 Q276.4,783.8 277.6,791.5 L278.2,795.3 L270.2,795.3 L270.8,791.5 Q272.0,783.8 274.2,780 Z" fill="#2a2a2a"/>
<path d="M424,865 Q426.5,869.2 427.8,877.8 L428.5,882 L419.5,882 L420.2,877.8 Q421.5,869.2 424,865 Z" fill="#2a2a2a"/>
<path d="M431.6,909.5 Q433.8,913.9 435.0,922.6 L435.6,927 L427.6,927 L428.2,922.6 Q429.4,913.9 431.6,909.5 Z" fill="#2a2a2a"/>
<path d="M416.6,926 Q418.8,930.2 420.0,938.8 L420.6,943 L412.6,943 L413.2,938.8 Q414.4,930.2 416.6,926 Z" fill="#2a2a2a"/>
<path d="M366.6,1013.5 Q368.8,1018.0 370.0,1027.0 L370.6,1031.5 L362.6,1031.5 L363.2,1027.0 Q364.4,1018.0 366.6,1013.5 Z" fill="#2a2a2a"/>
<path d="M738,794.25 Q741.0,799.1 742.7,808.9 L743.5,813.75 L732.5,813.75 L733.3,808.9 Q735.0,799.1 738,794.25 Z" fill="#2a2a2a"/>
<path d="M762,802.5 Q764.3,807.0 765.6,816.0 L766.25,820.5 L757.75,820.5 L758.4,816.0 Q759.7,807.0 762,802.5 Z" fill="#2a2a2a"/>
<path d="M778.4,880.4 Q780.6,884.3 781.8,892.1 L782.4,896 L774.4,896 L775.0,892.1 Q776.2,884.3 778.4,880.4 Z" fill="#2a2a2a"/>
<path d="M783.6,901.4 Q785.8,905.3 787.0,913.1 L787.6,917 L779.6,917 L780.2,913.1 Q781.4,905.3 783.6,901.4 Z" fill="#2a2a2a"/>
<path d="M765.4,1098.5 Q767.9,1103.1 769.2,1112.2 L769.9,1116.8 L760.9,1116.8 L761.6,1112.2 Q762.9,1103.1 765.4,1098.5 Z" fill="#2a2a2a"/>
<path d="M304.4,1258.6 Q306.3,1261.7 307.4,1267.9 L307.9,1271 L300.9,1271 L301.4,1267.9 Q302.5,1261.7 304.4,1258.6 Z" fill="#2a2a2a"/>
<path d="M51.3,869.5 Q54.8,875.0 56.7,885.9 L57.599999999999994,891.4 L45.0,891.4 L45.9,885.9 Q47.8,875.0 51.3,869.5 Z" fill="#2a2a2a"/>
<path d="M611.25,421.0 L614.75,435.25 L607.75,435.25 Z" fill="none" stroke="#222" stroke-width="2.0" stroke-linejoin="round"/>
<path d="M635.5,419.0 L639.0,435.0 L632.0,435.0 Z" fill="none" stroke="#222" stroke-width="2.0" stroke-linejoin="round"/>
<path d="M588,446.0 L591.0,457.75 L585.0,457.75 Z" fill="none" stroke="#222" stroke-width="2.0" stroke-linejoin="round"/>
<path d="M77.2,552.8 L81.9,574.7 L72.5,574.7 Z" fill="none" stroke="#222" stroke-width="2.6" stroke-linejoin="round"/>
<path d="M285.6,1230.5 L289.40000000000003,1245.3 L281.8,1245.3 Z" fill="none" stroke="#222" stroke-width="2.0" stroke-linejoin="round"/>
<path d="M53.8,896.5 L60.3,919.0 L47.3,919.0 Z" fill="none" stroke="#222" stroke-width="3.0" stroke-linejoin="round"/>
<polygon points="345.0,379.0 346.8,383.2 350.1,385.0 346.8,386.8 345.0,391.0 343.2,386.8 339.9,385.0 343.2,383.2" fill="#6262d2"/><circle cx="345" cy="385" r="1.2" fill="#c8d0f4" />
<polygon points="342.0,414.0 343.8,418.2 347.1,420.0 343.8,421.8 342.0,426.0 340.2,421.8 336.9,420.0 340.2,418.2" fill="#6262d2"/><circle cx="342" cy="420" r="1.2" fill="#c8d0f4" />
<polygon points="526.4,370.4 528.2,374.6 531.5,376.4 528.2,378.2 526.4,382.4 524.6,378.2 521.3,376.4 524.6,374.6" fill="#6262d2"/><circle cx="526.4" cy="376.4" r="1.2" fill="#c8d0f4" />
<polygon points="600.8,373.3 602.4,377.2 605.5,378.8 602.4,380.4 600.8,384.3 599.1,380.4 596.1,378.8 599.1,377.2" fill="#6262d2"/><circle cx="600.8" cy="378.8" r="1.1" fill="#c8d0f4" />
<polygon points="638.5,386.4 640.3,390.6 643.6,392.4 640.3,394.2 638.5,398.4 636.7,394.2 633.4,392.4 636.7,390.6" fill="#6262d2"/><circle cx="638.5" cy="392.4" r="1.2" fill="#c8d0f4" />
<polygon points="560.0,429.5 561.6,433.4 564.7,435.0 561.6,436.6 560.0,440.5 558.4,436.6 555.3,435.0 558.4,433.4" fill="#6262d2"/><circle cx="560" cy="435" r="1.1" fill="#c8d0f4" />
<polygon points="684.5,490.5 686.3,494.7 689.6,496.5 686.3,498.3 684.5,502.5 682.7,498.3 679.4,496.5 682.7,494.7" fill="#6262d2"/><circle cx="684.5" cy="496.5" r="1.2" fill="#c8d0f4" />
<polygon points="665.0,502.5 667.0,507.1 670.5,509.0 667.0,510.9 665.0,515.5 663.0,510.9 659.5,509.0 663.0,507.1" fill="#6262d2"/><circle cx="665" cy="509" r="1.3" fill="#c8d0f4" />
<polygon points="588.5,543.5 590.3,547.7 593.6,549.5 590.3,551.3 588.5,555.5 586.7,551.3 583.4,549.5 586.7,547.7" fill="#6262d2"/><circle cx="588.5" cy="549.5" r="1.2" fill="#c8d0f4" />
<polygon points="128.0,646.5 129.7,650.4 132.7,652.0 129.7,653.6 128.0,657.5 126.3,653.6 123.3,652.0 126.3,650.4" fill="#6262d2"/><circle cx="128" cy="652" r="1.1" fill="#c8d0f4" />
<polygon points="514.0,715.8 516.0,720.3 519.5,722.3 516.0,724.2 514.0,728.8 512.0,724.2 508.5,722.3 512.0,720.3" fill="#6262d2"/><circle cx="514" cy="722.3" r="1.3" fill="#c8d0f4" />
<polygon points="581.6,767.6 583.4,771.8 586.7,773.6 583.4,775.4 581.6,779.6 579.8,775.4 576.5,773.6 579.8,771.8" fill="#6262d2"/><circle cx="581.6" cy="773.6" r="1.2" fill="#c8d0f4" />
<polygon points="715.5,800.2 717.3,804.5 720.6,806.2 717.3,808.0 715.5,812.2 713.7,808.0 710.4,806.2 713.7,804.5" fill="#6262d2"/><circle cx="715.5" cy="806.25" r="1.2" fill="#c8d0f4" />
<polygon points="752.2,813.8 754.0,818.0 757.4,819.8 754.0,821.5 752.2,825.8 750.5,821.5 747.1,819.8 750.5,818.0" fill="#6262d2"/><circle cx="752.25" cy="819.75" r="1.2" fill="#c8d0f4" />
<polygon points="383.0,1016.1 384.6,1020.0 387.7,1021.6 384.6,1023.2 383.0,1027.1 381.4,1023.2 378.3,1021.6 381.4,1020.0" fill="#6262d2"/><circle cx="383" cy="1021.6" r="1.1" fill="#c8d0f4" />
<polygon points="57.0,929.5 59.9,936.1 65.1,939.0 59.9,941.9 57.0,948.5 54.1,941.9 48.9,939.0 54.1,936.1" fill="#6262d2"/><circle cx="57" cy="939" r="1.9" fill="#c8d0f4" />
</g>
</g>
<g id="wm" font-family="Liberation Serif, serif" font-weight="bold">
<text x="49" y="270.6" font-size="63" textLength="279" lengthAdjust="spacingAndGlyphs" fill="url(#hatch)" stroke="#222" stroke-width="1.4">gdz.moda</text>
<text x="645.5" y="266.5" font-size="63" textLength="276.0" lengthAdjust="spacingAndGlyphs" fill="url(#hatch)" stroke="#222" stroke-width="1.4">gdz.moda</text>
<text x="425.5" y="979" font-size="63" textLength="278.5" lengthAdjust="spacingAndGlyphs" fill="url(#hatch)" stroke="#222" stroke-width="1.4">gdz.moda</text>
<text x="152.75" y="1331.5" font-size="33" textLength="138.64999999999998" lengthAdjust="spacingAndGlyphs" fill="url(#hatch2)" stroke="#333" stroke-width="0.9">gdz.moda</text>
<text x="808.8" y="1331.3" font-size="33" textLength="139.20000000000005" lengthAdjust="spacingAndGlyphs" fill="url(#hatch2)" stroke="#333" stroke-width="0.9">gdz.moda</text>
<text x="201" y="614.5" font-size="18" textLength="75.5" lengthAdjust="spacingAndGlyphs" fill="#949494" stroke="#666" stroke-width="0.45">gdz.moda</text>
<text x="376" y="614.5" font-size="18" textLength="76.5" lengthAdjust="spacingAndGlyphs" fill="#949494" stroke="#666" stroke-width="0.45">gdz.moda</text>
<text x="648.5" y="611" font-size="18" textLength="76.0" lengthAdjust="spacingAndGlyphs" fill="#949494" stroke="#666" stroke-width="0.45">gdz.moda</text>
<text x="824" y="611" font-size="18" textLength="76" lengthAdjust="spacingAndGlyphs" fill="#949494" stroke="#666" stroke-width="0.45">gdz.moda</text>
<text x="459.5" y="1327" font-size="18" textLength="76.5" lengthAdjust="spacingAndGlyphs" fill="#949494" stroke="#666" stroke-width="0.45">gdz.moda</text>
<text x="48" y="751.6" font-size="14.5" textLength="59" lengthAdjust="spacingAndGlyphs" fill="#949494" stroke="#666" stroke-width="0.45">gdz.moda</text>
<text x="48" y="863" font-size="14.5" textLength="59" lengthAdjust="spacingAndGlyphs" fill="#949494" stroke="#666" stroke-width="0.45">gdz.moda</text>
<text x="48" y="1023" font-size="14.5" textLength="59.5" lengthAdjust="spacingAndGlyphs" fill="#949494" stroke="#666" stroke-width="0.45">gdz.moda</text>
<text x="48" y="1118.5" font-size="14.5" textLength="59.5" lengthAdjust="spacingAndGlyphs" fill="#949494" stroke="#666" stroke-width="0.45">gdz.moda</text>
</g>
</svg>
</body></html>
